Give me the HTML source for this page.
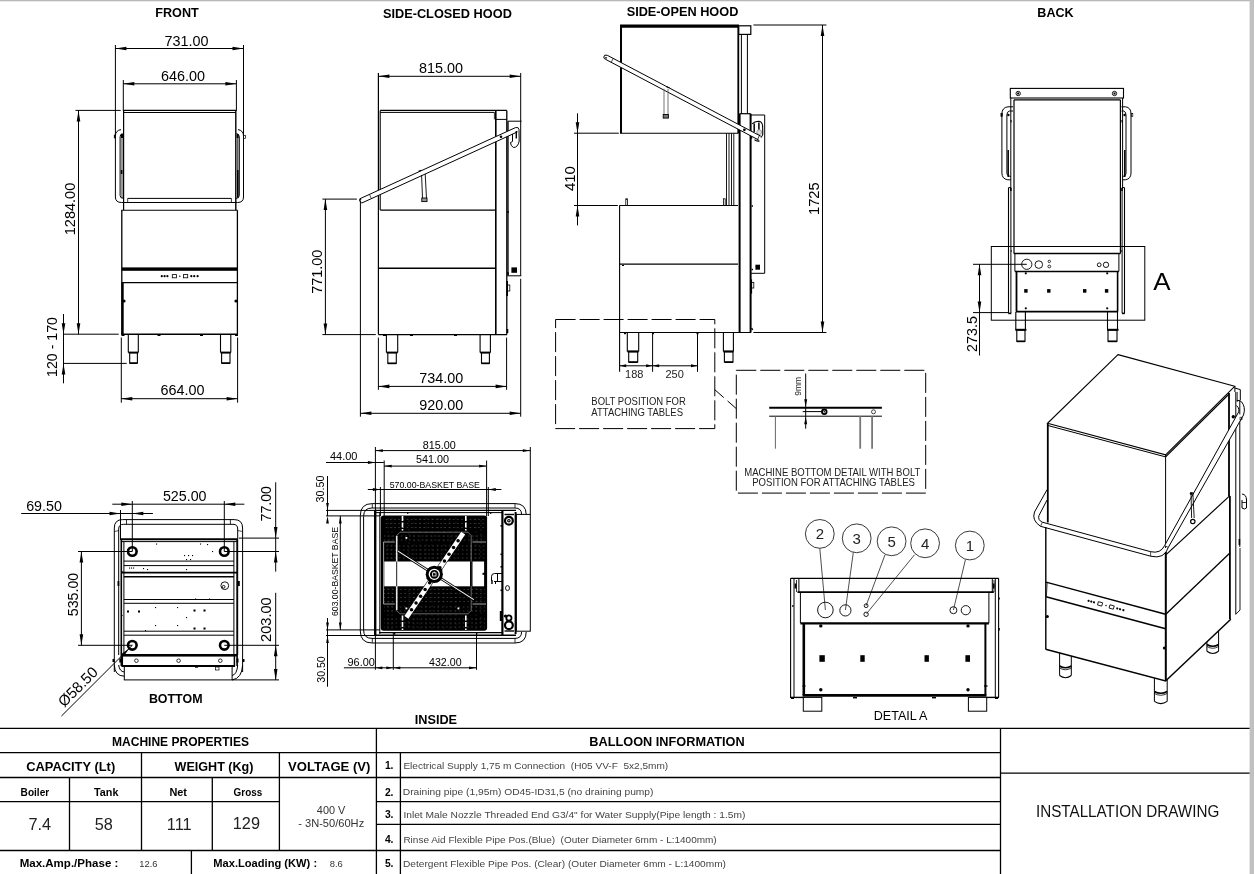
<!DOCTYPE html>
<html><head><meta charset="utf-8"><title>Installation Drawing</title>
<style>
html,body{margin:0;padding:0;background:#fff;}
body{width:1254px;height:874px;overflow:hidden;}
svg{display:block;will-change:transform;}
.cg{font-family:"Liberation Sans","DejaVu Sans",sans-serif;}
.ar{font-family:"Liberation Sans",sans-serif;}
</style></head><body>
<svg width="1254" height="874" viewBox="0 0 1254 874" shape-rendering="auto">
<rect x="0" y="0" width="1254" height="874" fill="#fff"/>
<rect x="0" y="0" width="1254" height="1.3" fill="#b8b8b8"/>
<rect x="1249.6" y="0" width="4.4" height="874" fill="#c0c0c0"/>
<text x="177" y="16.8" font-size="12.6" text-anchor="middle" class="ar" fill="#000" font-weight="bold" textLength="43.5" lengthAdjust="spacingAndGlyphs">FRONT</text>
<line x1="115.4" y1="45" x2="115.4" y2="136" stroke="#000" stroke-width="1"/>
<line x1="243.5" y1="45" x2="243.5" y2="136" stroke="#000" stroke-width="1"/>
<line x1="115.4" y1="48.5" x2="243.5" y2="48.5" stroke="#000" stroke-width="1"/>
<polygon points="115.4,48.5 126.4,46.7 126.4,50.3" fill="#000"/>
<polygon points="243.5,48.5 232.5,50.3 232.5,46.7" fill="#000"/>
<text x="186.5" y="45.5" font-size="15.2" text-anchor="middle" class="cg" fill="#000" textLength="44" lengthAdjust="spacingAndGlyphs">731.00</text>
<line x1="123.3" y1="80" x2="123.3" y2="111" stroke="#000" stroke-width="1"/>
<line x1="236.4" y1="80" x2="236.4" y2="111" stroke="#000" stroke-width="1"/>
<line x1="123.3" y1="83.8" x2="236.4" y2="83.8" stroke="#000" stroke-width="1"/>
<polygon points="123.3,83.8 134.3,82 134.3,85.6" fill="#000"/>
<polygon points="236.4,83.8 225.4,85.6 225.4,82" fill="#000"/>
<text x="183" y="80.8" font-size="15.2" text-anchor="middle" class="cg" fill="#000" textLength="44" lengthAdjust="spacingAndGlyphs">646.00</text>
<line x1="123.4" y1="110.4" x2="236" y2="110.4" stroke="#000" stroke-width="1.1"/>
<line x1="123.4" y1="112.5" x2="236" y2="112.5" stroke="#000" stroke-width="1.1"/>
<line x1="123.6" y1="110.4" x2="123.6" y2="210" stroke="#000" stroke-width="1.2"/>
<line x1="235.8" y1="110.4" x2="235.8" y2="210" stroke="#000" stroke-width="1.4"/>
<path d="M121 129.6 Q115.4 130.5 115.4 136 L115.4 197 Q115.4 202.5 121.5 202.5 L237.5 202.5 Q243.5 202.5 243.5 197 L243.5 136 Q243.5 130.5 238 129.6" fill="none" stroke="#000" stroke-width="1"/>
<path d="M122.5 133.5 Q120.1 134 120.1 137 L120.1 195.5 Q120.1 198.4 123.6 198.4" fill="none" stroke="#000" stroke-width="1"/>
<path d="M236.5 133.5 Q239.3 134 239.3 137 L239.3 195.5 Q239.3 198.4 235.8 198.4" fill="none" stroke="#000" stroke-width="1"/>
<line x1="127.7" y1="198.4" x2="231.4" y2="198.4" stroke="#000" stroke-width="1"/>
<line x1="127.7" y1="198.4" x2="127.7" y2="202.5" stroke="#000" stroke-width="0.8"/>
<line x1="231.4" y1="198.4" x2="231.4" y2="202.5" stroke="#000" stroke-width="0.8"/>
<line x1="122" y1="135" x2="122" y2="198" stroke="#000" stroke-width="0.8"/>
<line x1="237.8" y1="135" x2="237.8" y2="198" stroke="#000" stroke-width="0.9"/>
<line x1="121.6" y1="170" x2="121.6" y2="174" stroke="#000" stroke-width="1.6"/>
<line x1="237.8" y1="170" x2="237.8" y2="197" stroke="#000" stroke-width="1.6"/>
<rect x="121" y="134" width="2" height="4" rx="0" fill="#000" stroke="none" stroke-width="0"/>
<rect x="236.6" y="134" width="2" height="4" rx="0" fill="#000" stroke="none" stroke-width="0"/>
<rect x="114.2" y="135" width="1.5" height="3" rx="0" fill="#000" stroke="#000" stroke-width="0.6"/>
<rect x="243.6" y="135.5" width="1.8" height="2.8" rx="0" fill="none" stroke="#000" stroke-width="0.7"/>
<line x1="121.2" y1="210.2" x2="237.6" y2="210.2" stroke="#000" stroke-width="1.1"/>
<line x1="121.8" y1="210.2" x2="121.8" y2="334.3" stroke="#000" stroke-width="1.3"/>
<line x1="237.4" y1="210.2" x2="237.4" y2="334.3" stroke="#000" stroke-width="1.3"/>
<rect x="121.8" y="267.4" width="115.6" height="3.4" rx="0" fill="#000" stroke="none" stroke-width="0"/>
<line x1="121.8" y1="282.7" x2="237.4" y2="282.7" stroke="#000" stroke-width="1.3"/>
<line x1="122.6" y1="283" x2="122.6" y2="334" stroke="#000" stroke-width="2.2"/>
<line x1="121.2" y1="334.2" x2="237.8" y2="334.2" stroke="#000" stroke-width="1.6"/>
<circle cx="124" cy="301" r="1.6" fill="#000" stroke="#000" stroke-width="0"/>
<circle cx="236" cy="301" r="1.6" fill="#000" stroke="#000" stroke-width="0"/>
<rect x="157.5" y="335" width="3" height="1" rx="0" fill="#000" stroke="none" stroke-width="0"/>
<rect x="200" y="335" width="3" height="1" rx="0" fill="#000" stroke="none" stroke-width="0"/>
<rect x="121.5" y="334" width="3" height="2" rx="0" fill="#000" stroke="none" stroke-width="0"/>
<rect x="235" y="334" width="3" height="2" rx="0" fill="#000" stroke="none" stroke-width="0"/>
<circle cx="161.8" cy="276.2" r="1.1" fill="#000" stroke="#000" stroke-width="0"/>
<circle cx="164.6" cy="276.2" r="1.1" fill="#000" stroke="#000" stroke-width="0"/>
<circle cx="167.4" cy="276.2" r="1.1" fill="#000" stroke="#000" stroke-width="0"/>
<rect x="172.3" y="274.6" width="4.2" height="3.2" rx="0" fill="none" stroke="#000" stroke-width="0.8"/>
<circle cx="179.8" cy="276.2" r="0.7" fill="#000" stroke="#000" stroke-width="0"/>
<rect x="183.5" y="274.6" width="4.2" height="3.2" rx="0" fill="none" stroke="#000" stroke-width="0.8"/>
<circle cx="191.3" cy="276.2" r="1.1" fill="#000" stroke="#000" stroke-width="0"/>
<circle cx="194.2" cy="276.2" r="1.1" fill="#000" stroke="#000" stroke-width="0"/>
<circle cx="197.6" cy="276.2" r="1.1" fill="#000" stroke="#000" stroke-width="0"/>
<line x1="128.3" y1="334.3" x2="128.3" y2="352.5" stroke="#000" stroke-width="1.1"/>
<line x1="138.3" y1="334.3" x2="138.3" y2="352.5" stroke="#000" stroke-width="1.1"/>
<line x1="128.3" y1="352.5" x2="138.3" y2="352.5" stroke="#000" stroke-width="1.8"/>
<rect x="129.7" y="352.8" width="7.7" height="10.3" rx="0" fill="none" stroke="#000" stroke-width="1.1"/>
<line x1="129.7" y1="363.2" x2="137.4" y2="363.2" stroke="#000" stroke-width="1.6"/>
<line x1="220.5" y1="334.3" x2="220.5" y2="352.5" stroke="#000" stroke-width="1.1"/>
<line x1="230.8" y1="334.3" x2="230.8" y2="352.5" stroke="#000" stroke-width="1.1"/>
<line x1="220.5" y1="352.5" x2="230.8" y2="352.5" stroke="#000" stroke-width="1.8"/>
<rect x="221.6" y="352.8" width="8.4" height="10.3" rx="0" fill="none" stroke="#000" stroke-width="1.1"/>
<line x1="221.6" y1="363.2" x2="230" y2="363.2" stroke="#000" stroke-width="1.6"/>
<line x1="75.5" y1="110.4" x2="120.7" y2="110.4" stroke="#000" stroke-width="1"/>
<line x1="63" y1="334.2" x2="118.7" y2="334.2" stroke="#000" stroke-width="1"/>
<line x1="78.5" y1="110.4" x2="78.5" y2="334.2" stroke="#000" stroke-width="1"/>
<polygon points="78.5,110.4 80.3,121.4 76.7,121.4" fill="#000"/>
<polygon points="78.5,334.2 76.7,323.2 80.3,323.2" fill="#000"/>
<text x="74.5" y="209" font-size="15.2" text-anchor="middle" class="cg" fill="#000" textLength="52.5" lengthAdjust="spacingAndGlyphs" transform="rotate(-90 74.5 209)">1284.00</text>
<line x1="63.5" y1="363.4" x2="126.7" y2="363.4" stroke="#000" stroke-width="1"/>
<line x1="63.5" y1="314" x2="63.5" y2="383.3" stroke="#000" stroke-width="1"/>
<polygon points="63.5,334.2 61.7,323.2 65.3,323.2" fill="#000"/>
<polygon points="63.5,363.4 65.3,374.4 61.7,374.4" fill="#000"/>
<text x="57" y="347" font-size="15.2" text-anchor="middle" class="cg" fill="#000" textLength="60" lengthAdjust="spacingAndGlyphs" transform="rotate(-90 57 347)">120 - 170</text>
<line x1="121.3" y1="337.5" x2="121.3" y2="402.7" stroke="#000" stroke-width="1"/>
<line x1="237.6" y1="337.5" x2="237.6" y2="402.7" stroke="#000" stroke-width="1"/>
<line x1="121.3" y1="398.7" x2="237.6" y2="398.7" stroke="#000" stroke-width="1"/>
<polygon points="121.3,398.7 132.3,396.9 132.3,400.5" fill="#000"/>
<polygon points="237.6,398.7 226.6,400.5 226.6,396.9" fill="#000"/>
<text x="182.5" y="395.3" font-size="15.2" text-anchor="middle" class="cg" fill="#000" textLength="44" lengthAdjust="spacingAndGlyphs">664.00</text>
<text x="447.4" y="18.1" font-size="12.6" text-anchor="middle" class="ar" fill="#000" font-weight="bold" textLength="129" lengthAdjust="spacingAndGlyphs">SIDE-CLOSED HOOD</text>
<line x1="378.4" y1="73" x2="378.4" y2="334.6" stroke="#000" stroke-width="1.2"/>
<line x1="520.7" y1="73" x2="520.7" y2="275.8" stroke="#000" stroke-width="1"/>
<line x1="378.4" y1="76.3" x2="520.7" y2="76.3" stroke="#000" stroke-width="1"/>
<polygon points="378.4,76.3 389.4,74.5 389.4,78.1" fill="#000"/>
<polygon points="520.7,76.3 509.7,78.1 509.7,74.5" fill="#000"/>
<text x="441" y="73" font-size="15.2" text-anchor="middle" class="cg" fill="#000" textLength="44" lengthAdjust="spacingAndGlyphs">815.00</text>
<line x1="380.2" y1="110.4" x2="506.8" y2="110.4" stroke="#000" stroke-width="1.1"/>
<line x1="380.2" y1="112.4" x2="494.4" y2="112.4" stroke="#000" stroke-width="1"/>
<line x1="380.2" y1="110.4" x2="380.2" y2="210.1" stroke="#000" stroke-width="1.1"/>
<line x1="380.2" y1="210.1" x2="495.4" y2="210.1" stroke="#000" stroke-width="1.2"/>
<line x1="494.4" y1="112.4" x2="494.4" y2="119.4" stroke="#000" stroke-width="0.8"/>
<line x1="495.8" y1="110.4" x2="495.8" y2="334.6" stroke="#000" stroke-width="1.6"/>
<line x1="495.8" y1="119.4" x2="506.8" y2="119.4" stroke="#000" stroke-width="1"/>
<line x1="506.8" y1="110.4" x2="506.8" y2="334.6" stroke="#000" stroke-width="1.3"/>
<line x1="508" y1="121.2" x2="508" y2="275.8" stroke="#000" stroke-width="1.3"/>
<line x1="507.8" y1="121.2" x2="521.5" y2="121.2" stroke="#000" stroke-width="1"/>
<path d="M359.8 198.8 L515.5 127.6 L517.6 131.8 L361.8 203 Z" fill="#fff" stroke="none" stroke-width="0"/>
<path d="M359.8 198.8 L515.5 127.6" fill="none" stroke="#000" stroke-width="1"/>
<path d="M361.8 203 L517.6 131.8" fill="none" stroke="#000" stroke-width="1"/>
<path d="M359.8 198.8 Q358.6 201.5 361.8 203" fill="none" stroke="#000" stroke-width="1"/>
<line x1="369.5" y1="194.5" x2="371.3" y2="198.5" stroke="#000" stroke-width="0.7"/>
<path d="M515.5 127.6 Q518.5 126.6 519 129.5 L519.2 141 Q518 147.5 513.5 147.5 Q510.5 146 510.5 142.5 L512.5 141.5 L512.5 134" fill="none" stroke="#000" stroke-width="1"/>
<line x1="516.3" y1="131" x2="516.3" y2="138.5" stroke="#000" stroke-width="1.4"/>
<circle cx="501" cy="136.8" r="1.3" fill="#000" stroke="#000" stroke-width="0"/>
<circle cx="360.6" cy="199.6" r="0.7" fill="#000" stroke="#000" stroke-width="0"/>
<path d="M421.6 175 L422.6 200.5" fill="none" stroke="#000" stroke-width="0.9"/>
<path d="M425.2 174 L426.6 200.5" fill="none" stroke="#000" stroke-width="0.9"/>
<rect x="421.8" y="198" width="5.2" height="3.6" rx="0" fill="#999" stroke="#000" stroke-width="0.9"/>
<line x1="418.5" y1="171.3" x2="421.5" y2="170.3" stroke="#000" stroke-width="1.2"/>
<line x1="378.4" y1="268.2" x2="495.4" y2="268.2" stroke="#000" stroke-width="1.6"/>
<line x1="378.4" y1="334.6" x2="507" y2="334.6" stroke="#000" stroke-width="1.3"/>
<line x1="507.4" y1="275.8" x2="521.3" y2="275.8" stroke="#000" stroke-width="1"/>
<rect x="511.4" y="267.4" width="5.6" height="5.4" rx="0" fill="#000" stroke="none" stroke-width="0"/>
<rect x="507.4" y="285" width="2.4" height="6" rx="0" fill="none" stroke="#000" stroke-width="0.8"/>
<line x1="507.2" y1="281" x2="507.2" y2="296" stroke="#000" stroke-width="1.6"/>
<line x1="507.5" y1="329" x2="507.5" y2="333" stroke="#000" stroke-width="1.6"/>
<line x1="508" y1="211" x2="508" y2="213" stroke="#000" stroke-width="1.5"/>
<line x1="508" y1="272" x2="508" y2="275" stroke="#000" stroke-width="1.5"/>
<rect x="383" y="335" width="3" height="1" rx="0" fill="#000" stroke="none" stroke-width="0"/>
<rect x="410" y="335" width="3" height="1" rx="0" fill="#000" stroke="none" stroke-width="0"/>
<rect x="454" y="335" width="3" height="1" rx="0" fill="#000" stroke="none" stroke-width="0"/>
<line x1="386.4" y1="334.6" x2="386.4" y2="352.5" stroke="#000" stroke-width="1.1"/>
<line x1="397.7" y1="334.6" x2="397.7" y2="352.5" stroke="#000" stroke-width="1.1"/>
<line x1="386.4" y1="352.5" x2="397.7" y2="352.5" stroke="#000" stroke-width="1.8"/>
<rect x="387.8" y="352.8" width="8.5" height="10.5" rx="0" fill="none" stroke="#000" stroke-width="1.1"/>
<line x1="387.8" y1="363.4" x2="396.3" y2="363.4" stroke="#000" stroke-width="1.6"/>
<line x1="480.1" y1="334.6" x2="480.1" y2="352.5" stroke="#000" stroke-width="1.1"/>
<line x1="490.4" y1="334.6" x2="490.4" y2="352.5" stroke="#000" stroke-width="1.1"/>
<line x1="480.1" y1="352.5" x2="490.4" y2="352.5" stroke="#000" stroke-width="1.8"/>
<rect x="481.5" y="352.8" width="7.9" height="10.5" rx="0" fill="none" stroke="#000" stroke-width="1.1"/>
<line x1="481.5" y1="363.4" x2="489.4" y2="363.4" stroke="#000" stroke-width="1.6"/>
<line x1="322.4" y1="199.1" x2="356.9" y2="199.1" stroke="#000" stroke-width="1"/>
<line x1="322.4" y1="334.6" x2="375.8" y2="334.6" stroke="#000" stroke-width="1"/>
<line x1="325.4" y1="199.1" x2="325.4" y2="334.6" stroke="#000" stroke-width="1"/>
<polygon points="325.4,199.1 327.2,210.1 323.6,210.1" fill="#000"/>
<polygon points="325.4,334.6 323.6,323.6 327.2,323.6" fill="#000"/>
<text x="321.6" y="271.8" font-size="15.2" text-anchor="middle" class="cg" fill="#000" textLength="44" lengthAdjust="spacingAndGlyphs" transform="rotate(-90 321.6 271.8)">771.00</text>
<line x1="378.4" y1="337.6" x2="378.4" y2="389.8" stroke="#000" stroke-width="1"/>
<line x1="506.6" y1="337.6" x2="506.6" y2="389.8" stroke="#000" stroke-width="1"/>
<line x1="378.4" y1="386.4" x2="506.6" y2="386.4" stroke="#000" stroke-width="1"/>
<polygon points="378.4,386.4 389.4,384.6 389.4,388.2" fill="#000"/>
<polygon points="506.6,386.4 495.6,388.2 495.6,384.6" fill="#000"/>
<text x="441.2" y="382.8" font-size="15.2" text-anchor="middle" class="cg" fill="#000" textLength="44" lengthAdjust="spacingAndGlyphs">734.00</text>
<line x1="360.4" y1="200.5" x2="360.4" y2="416.7" stroke="#000" stroke-width="1"/>
<line x1="520.7" y1="278.7" x2="520.7" y2="416.7" stroke="#000" stroke-width="1"/>
<line x1="360.4" y1="413.3" x2="520.7" y2="413.3" stroke="#000" stroke-width="1"/>
<polygon points="360.4,413.3 371.4,411.5 371.4,415.1" fill="#000"/>
<polygon points="520.7,413.3 509.7,415.1 509.7,411.5" fill="#000"/>
<text x="441.2" y="410.1" font-size="15.2" text-anchor="middle" class="cg" fill="#000" textLength="44" lengthAdjust="spacingAndGlyphs">920.00</text>
<text x="682.5" y="16" font-size="12.6" text-anchor="middle" class="ar" fill="#000" font-weight="bold" textLength="111.7" lengthAdjust="spacingAndGlyphs">SIDE-OPEN HOOD</text>
<line x1="620" y1="26.2" x2="739" y2="26.2" stroke="#000" stroke-width="3.2"/>
<line x1="621" y1="25" x2="621" y2="133.2" stroke="#000" stroke-width="2"/>
<line x1="738.3" y1="26" x2="738.3" y2="133.2" stroke="#000" stroke-width="1.8"/>
<line x1="620" y1="133.2" x2="738.4" y2="133.2" stroke="#000" stroke-width="1.1"/>
<rect x="738.6" y="25.8" width="12.2" height="8.6" rx="0" fill="none" stroke="#000" stroke-width="1.2"/>
<line x1="741.4" y1="34.3" x2="741.4" y2="113.7" stroke="#000" stroke-width="1"/>
<line x1="747.4" y1="34.3" x2="747.4" y2="113.7" stroke="#000" stroke-width="1"/>
<line x1="739.6" y1="113.7" x2="739.6" y2="332.5" stroke="#000" stroke-width="2"/>
<line x1="750.6" y1="113.7" x2="750.6" y2="332.5" stroke="#000" stroke-width="2"/>
<line x1="739.6" y1="113.7" x2="750.6" y2="113.7" stroke="#000" stroke-width="1.2"/>
<path d="M750.8 115 L764.7 115 L764.7 273.3 L750.8 273.3" fill="none" stroke="#000" stroke-width="1"/>
<rect x="755.4" y="264.7" width="4.6" height="5" rx="0" fill="#000" stroke="none" stroke-width="0"/>
<rect x="751.2" y="282.5" width="2.6" height="5.5" rx="0" fill="none" stroke="#000" stroke-width="0.8"/>
<line x1="751.4" y1="279.3" x2="751.4" y2="293.6" stroke="#000" stroke-width="1.4"/>
<line x1="751.6" y1="206" x2="753" y2="206" stroke="#000" stroke-width="1.4"/>
<line x1="751.6" y1="269.5" x2="753" y2="269.5" stroke="#000" stroke-width="1.4"/>
<line x1="751.6" y1="328" x2="752.6" y2="330" stroke="#000" stroke-width="1.4"/>
<path d="M752.2 123.8 Q754.5 121.5 758.5 121.2 Q761.9 121.3 762.6 125.5 L762.8 134 Q762.3 136.5 760.8 137.6" fill="none" stroke="#000" stroke-width="1.1"/>
<line x1="754.2" y1="123.5" x2="754.2" y2="132" stroke="#000" stroke-width="1.5"/>
<line x1="758.9" y1="122.6" x2="758.9" y2="129.7" stroke="#000" stroke-width="1.5"/>
<circle cx="759.2" cy="132.2" r="2.4" fill="#ddd" stroke="#888" stroke-width="0.8"/>
<path d="M607.3 55.3 L760.8 136.2 L758.8 140.1 L605.3 59.2 Z" fill="#fff" stroke="none" stroke-width="0"/>
<path d="M607.3 55.3 L760.8 136.2" fill="none" stroke="#000" stroke-width="1"/>
<path d="M605.3 59.2 L758.8 140.1" fill="none" stroke="#000" stroke-width="1"/>
<path d="M607.3 55.3 Q604 54.2 603.8 57 Q603.8 58.6 605.3 59.2" fill="none" stroke="#000" stroke-width="1"/>
<line x1="759.5" y1="135.5" x2="757.5" y2="139.4" stroke="#000" stroke-width="0.8"/>
<line x1="613.2" y1="58.4" x2="611.2" y2="62.3" stroke="#000" stroke-width="0.7"/>
<circle cx="606" cy="57.8" r="0.9" fill="#000" stroke="#000" stroke-width="0"/>
<circle cx="744.4" cy="129.8" r="1.4" fill="#000" stroke="#000" stroke-width="0"/>
<rect x="750.2" y="136.5" width="2" height="2.2" rx="0" fill="#000" stroke="none" stroke-width="0"/>
<path d="M754.5 139.6 Q756.5 141.6 759.4 141" fill="none" stroke="#000" stroke-width="1.3"/>
<line x1="664" y1="88.7" x2="664" y2="114" stroke="#666" stroke-width="0.9"/>
<line x1="668" y1="88.7" x2="668" y2="114" stroke="#666" stroke-width="0.9"/>
<rect x="663.2" y="114.5" width="5.2" height="3.6" rx="0" fill="#777" stroke="#000" stroke-width="0.9"/>
<line x1="666.5" y1="86.8" x2="669.5" y2="87.8" stroke="#000" stroke-width="1.2"/>
<line x1="726.5" y1="133.2" x2="726.5" y2="205.5" stroke="#000" stroke-width="0.9"/>
<line x1="729" y1="133.2" x2="729" y2="205.5" stroke="#000" stroke-width="0.9"/>
<line x1="731.5" y1="133.2" x2="731.5" y2="205.5" stroke="#000" stroke-width="0.9"/>
<line x1="733.8" y1="133.2" x2="733.8" y2="205.5" stroke="#000" stroke-width="0.9"/>
<line x1="619.4" y1="205.5" x2="738" y2="205.5" stroke="#000" stroke-width="1.2"/>
<line x1="619.6" y1="205.5" x2="619.6" y2="371.8" stroke="#000" stroke-width="1.1"/>
<line x1="619.4" y1="264.1" x2="738" y2="264.1" stroke="#000" stroke-width="1.3"/>
<line x1="619.4" y1="332.5" x2="751" y2="332.5" stroke="#000" stroke-width="1.2"/>
<rect x="625.8" y="198.8" width="1.6" height="6.7" rx="0" fill="none" stroke="#000" stroke-width="0.8"/>
<rect x="723.6" y="198.8" width="1.6" height="6.7" rx="0" fill="none" stroke="#000" stroke-width="0.8"/>
<rect x="622" y="265" width="2" height="1" rx="0" fill="#000" stroke="none" stroke-width="0"/>
<rect x="624" y="333" width="2" height="1.2" rx="0" fill="#000" stroke="none" stroke-width="0"/>
<rect x="652" y="333" width="2" height="1.2" rx="0" fill="#000" stroke="none" stroke-width="0"/>
<rect x="696.5" y="333" width="2" height="1.2" rx="0" fill="#000" stroke="none" stroke-width="0"/>
<line x1="627.3" y1="332.5" x2="627.3" y2="351.4" stroke="#000" stroke-width="1.1"/>
<line x1="638.7" y1="332.5" x2="638.7" y2="351.4" stroke="#000" stroke-width="1.1"/>
<line x1="627.3" y1="351.4" x2="638.7" y2="351.4" stroke="#000" stroke-width="2"/>
<rect x="628.7" y="351.8" width="9" height="10.2" rx="0" fill="none" stroke="#000" stroke-width="1.1"/>
<line x1="628.7" y1="362.2" x2="637.7" y2="362.2" stroke="#000" stroke-width="1.6"/>
<line x1="723.4" y1="332.5" x2="723.4" y2="351.4" stroke="#000" stroke-width="1.1"/>
<line x1="733.4" y1="332.5" x2="733.4" y2="351.4" stroke="#000" stroke-width="1.1"/>
<line x1="723.4" y1="351.4" x2="733.4" y2="351.4" stroke="#000" stroke-width="2"/>
<rect x="724.4" y="351.8" width="8.6" height="10.2" rx="0" fill="none" stroke="#000" stroke-width="1.1"/>
<line x1="724.4" y1="362.2" x2="733" y2="362.2" stroke="#000" stroke-width="1.6"/>
<line x1="652.6" y1="332.5" x2="652.6" y2="371.8" stroke="#000" stroke-width="1"/>
<line x1="697.5" y1="332.5" x2="697.5" y2="371.8" stroke="#000" stroke-width="1"/>
<line x1="619.7" y1="365.8" x2="697.5" y2="365.8" stroke="#000" stroke-width="1"/>
<polygon points="619.7,365.8 626.2,364.3 626.2,367.3" fill="#000"/>
<polygon points="652.6,365.8 646.1,367.3 646.1,364.3" fill="#000"/>
<polygon points="652.6,365.8 659.1,364.3 659.1,367.3" fill="#000"/>
<polygon points="697.5,365.8 691,367.3 691,364.3" fill="#000"/>
<text x="634.3" y="377.8" font-size="11" text-anchor="middle" class="ar" fill="#222">188</text>
<text x="674.6" y="377.8" font-size="11" text-anchor="middle" class="ar" fill="#222">250</text>
<rect x="555.6" y="319.5" width="159.2" height="109.1" rx="0" fill="none" stroke="#000" stroke-width="1" stroke-dasharray="20 4"/>
<text x="638.6" y="404.7" font-size="10.5" text-anchor="middle" class="ar" fill="#222" textLength="94.5" lengthAdjust="spacingAndGlyphs">BOLT POSITION FOR</text>
<text x="637.2" y="415.6" font-size="10.5" text-anchor="middle" class="ar" fill="#222" textLength="91.7" lengthAdjust="spacingAndGlyphs">ATTACHING TABLES</text>
<line x1="714.8" y1="389.7" x2="736.4" y2="408.7" stroke="#000" stroke-width="1" stroke-dasharray="12 5"/>
<rect x="736.3" y="370.3" width="189.4" height="122.8" rx="0" fill="none" stroke="#000" stroke-width="1" stroke-dasharray="20 4"/>
<line x1="769.2" y1="407.8" x2="881.9" y2="407.8" stroke="#000" stroke-width="2"/>
<line x1="769.2" y1="416.2" x2="881.9" y2="416.2" stroke="#000" stroke-width="1"/>
<line x1="775.4" y1="416.2" x2="775.4" y2="448.7" stroke="#666" stroke-width="1"/>
<line x1="860.2" y1="416.2" x2="860.2" y2="448.7" stroke="#777" stroke-width="1.8"/>
<line x1="872.1" y1="416.2" x2="872.1" y2="448.7" stroke="#777" stroke-width="1.8"/>
<line x1="805.7" y1="373.5" x2="805.7" y2="428.7" stroke="#000" stroke-width="1"/>
<polygon points="805.7,406.8 804.2,399.3 807.2,399.3" fill="#000"/>
<polygon points="805.7,416.7 807.2,424.2 804.2,424.2" fill="#000"/>
<line x1="802.7" y1="411.6" x2="822.7" y2="411.6" stroke="#000" stroke-width="1"/>
<circle cx="824.3" cy="411.8" r="2.3" fill="none" stroke="#000" stroke-width="1.8"/>
<circle cx="824.3" cy="411.8" r="0.8" fill="#000" stroke="#000" stroke-width="0"/>
<circle cx="873.5" cy="411.8" r="2" fill="none" stroke="#333" stroke-width="0.9"/>
<text x="801" y="386.3" font-size="8.5" text-anchor="middle" class="ar" fill="#222" transform="rotate(-90 801 386.3)">9mm</text>
<text x="832.3" y="475.6" font-size="10.3" text-anchor="middle" class="ar" fill="#222" textLength="176" lengthAdjust="spacingAndGlyphs">MACHINE BOTTOM DETAIL WITH BOLT</text>
<text x="833.6" y="485.6" font-size="10.3" text-anchor="middle" class="ar" fill="#222" textLength="162.7" lengthAdjust="spacingAndGlyphs">POSITION FOR ATTACHING TABLES</text>
<line x1="574" y1="133.2" x2="618.8" y2="133.2" stroke="#000" stroke-width="1"/>
<line x1="574" y1="205.5" x2="617.8" y2="205.5" stroke="#000" stroke-width="1"/>
<line x1="577.5" y1="113.3" x2="577.5" y2="225.4" stroke="#000" stroke-width="1"/>
<polygon points="577.5,133.2 575.7,122.2 579.3,122.2" fill="#000"/>
<polygon points="577.5,205.5 579.3,216.5 575.7,216.5" fill="#000"/>
<text x="575" y="178.6" font-size="15.2" text-anchor="middle" class="cg" fill="#000" textLength="25" lengthAdjust="spacingAndGlyphs" transform="rotate(-90 575 178.6)">410</text>
<line x1="753.4" y1="25" x2="826.4" y2="25" stroke="#000" stroke-width="1"/>
<line x1="753.4" y1="332.5" x2="826.4" y2="332.5" stroke="#000" stroke-width="1"/>
<line x1="822.5" y1="25" x2="822.5" y2="332.5" stroke="#000" stroke-width="1"/>
<polygon points="822.5,25 824.3,36 820.7,36" fill="#000"/>
<polygon points="822.5,332.5 820.7,321.5 824.3,321.5" fill="#000"/>
<text x="819" y="198.7" font-size="15.2" text-anchor="middle" class="cg" fill="#000" textLength="32.5" lengthAdjust="spacingAndGlyphs" transform="rotate(-90 819 198.7)">1725</text>
<text x="1055.5" y="17.1" font-size="12.6" text-anchor="middle" class="ar" fill="#000" font-weight="bold" textLength="36.3" lengthAdjust="spacingAndGlyphs">BACK</text>
<rect x="1010.3" y="88.4" width="113.2" height="9.6" rx="0" fill="none" stroke="#000" stroke-width="1.1"/>
<line x1="1013.8" y1="99.9" x2="1120.5" y2="99.9" stroke="#000" stroke-width="1.1"/>
<circle cx="1018.2" cy="93.5" r="2.2" fill="none" stroke="#000" stroke-width="0.9"/>
<rect x="1017.2" y="92.5" width="2" height="2" rx="0" fill="#000" stroke="none" stroke-width="0"/>
<circle cx="1114.5" cy="93.5" r="2.2" fill="none" stroke="#000" stroke-width="0.9"/>
<rect x="1113.5" y="92.5" width="2" height="2" rx="0" fill="#000" stroke="none" stroke-width="0"/>
<line x1="1014" y1="99.9" x2="1014" y2="253.4" stroke="#000" stroke-width="1.2"/>
<line x1="1120.4" y1="99.9" x2="1120.4" y2="253.4" stroke="#000" stroke-width="1.2"/>
<line x1="1010.8" y1="98" x2="1010.8" y2="188" stroke="#000" stroke-width="1"/>
<line x1="1122.6" y1="98" x2="1122.6" y2="188" stroke="#000" stroke-width="1"/>
<path d="M1013 106.8 L1008 106.8 Q1001.9 107.5 1001.9 114 L1001.9 173 Q1002 179 1007.8 179.8 L1010.8 179.8" fill="none" stroke="#000" stroke-width="1"/>
<path d="M1013 111 L1009.5 111 Q1006.9 111.5 1006.9 115 L1006.9 173.5 Q1007 176.3 1010.8 176.5" fill="none" stroke="#000" stroke-width="1"/>
<path d="M1121.5 106.8 L1125.5 106.8 Q1131 107.5 1131 114 L1131 173 Q1131 179 1125.3 179.8 L1122.6 179.8" fill="none" stroke="#000" stroke-width="1"/>
<path d="M1121.5 111 L1123.5 111 Q1126 111.5 1126 115 L1126 173.5 Q1126 176.3 1122.6 176.5" fill="none" stroke="#000" stroke-width="1"/>
<line x1="1008.2" y1="150" x2="1008.2" y2="177" stroke="#000" stroke-width="1.5"/>
<line x1="1124.8" y1="150" x2="1124.8" y2="177" stroke="#000" stroke-width="1.5"/>
<rect x="1000.9" y="113.5" width="1.4" height="3" rx="0" fill="#000" stroke="#000" stroke-width="0.6"/>
<rect x="1131.2" y="113.6" width="1.6" height="2.8" rx="0" fill="none" stroke="#000" stroke-width="0.7"/>
<circle cx="1008.4" cy="115" r="1.2" fill="#000" stroke="#000" stroke-width="0"/>
<circle cx="1124.6" cy="115" r="1.2" fill="#000" stroke="#000" stroke-width="0"/>
<rect x="1010.6" y="120" width="1" height="2.4" rx="0" fill="#000" stroke="none" stroke-width="0"/>
<rect x="1121.4" y="120" width="1" height="2.4" rx="0" fill="#000" stroke="none" stroke-width="0"/>
<line x1="1008.5" y1="187.6" x2="1008.5" y2="313.2" stroke="#000" stroke-width="1.1"/>
<line x1="1124.5" y1="187.6" x2="1124.5" y2="313.2" stroke="#000" stroke-width="1.1"/>
<line x1="1010.9" y1="187.6" x2="1010.9" y2="313.2" stroke="#000" stroke-width="1"/>
<line x1="1122.1" y1="187.6" x2="1122.1" y2="313.2" stroke="#000" stroke-width="1"/>
<line x1="1008.5" y1="187.6" x2="1011" y2="187.6" stroke="#000" stroke-width="1"/>
<line x1="1122" y1="187.6" x2="1124.5" y2="187.6" stroke="#000" stroke-width="1"/>
<rect x="1010" y="188" width="1.6" height="3" rx="0" fill="#000" stroke="none" stroke-width="0"/>
<rect x="1121.2" y="188" width="1.6" height="3" rx="0" fill="#000" stroke="none" stroke-width="0"/>
<line x1="1008.3" y1="313.4" x2="1011.3" y2="313.4" stroke="#000" stroke-width="1.6"/>
<line x1="1122" y1="313.4" x2="1124.8" y2="313.4" stroke="#000" stroke-width="1.6"/>
<rect x="991.3" y="246.5" width="153.5" height="73.7" rx="0" fill="none" stroke="#000" stroke-width="1"/>
<line x1="1013.8" y1="253.5" x2="1120.5" y2="253.5" stroke="#000" stroke-width="1.5"/>
<line x1="1014.9" y1="253.5" x2="1014.9" y2="271.4" stroke="#000" stroke-width="1"/>
<line x1="1118.9" y1="253.5" x2="1118.9" y2="271.4" stroke="#000" stroke-width="1"/>
<line x1="1014.9" y1="271.5" x2="1118.9" y2="271.5" stroke="#000" stroke-width="1.6"/>
<circle cx="1026.8" cy="264.3" r="5.1" fill="none" stroke="#000" stroke-width="0.9"/>
<circle cx="1038.8" cy="264.6" r="3.8" fill="none" stroke="#000" stroke-width="0.9"/>
<circle cx="1049.3" cy="261.4" r="1.2" fill="none" stroke="#000" stroke-width="0.8"/>
<circle cx="1049.3" cy="266.5" r="1.4" fill="none" stroke="#000" stroke-width="0.8"/>
<circle cx="1099.2" cy="264.8" r="1.9" fill="none" stroke="#000" stroke-width="0.9"/>
<circle cx="1106" cy="264.8" r="2.7" fill="none" stroke="#000" stroke-width="0.9"/>
<circle cx="1011.3" cy="251" r="0.7" fill="#000" stroke="#000" stroke-width="0"/>
<circle cx="1121.7" cy="251" r="0.7" fill="#000" stroke="#000" stroke-width="0"/>
<line x1="1016.5" y1="271.5" x2="1016.5" y2="311.6" stroke="#000" stroke-width="1.8"/>
<line x1="1117.6" y1="271.5" x2="1117.6" y2="311.6" stroke="#000" stroke-width="1.6"/>
<line x1="1016" y1="311.7" x2="1118" y2="311.7" stroke="#000" stroke-width="1.8"/>
<rect x="1024.2" y="289.1" width="3.4" height="3.6" rx="0" fill="#000" stroke="none" stroke-width="0"/>
<rect x="1047.1" y="289.1" width="3.4" height="3.6" rx="0" fill="#000" stroke="none" stroke-width="0"/>
<rect x="1083" y="289.1" width="3.4" height="3.6" rx="0" fill="#000" stroke="none" stroke-width="0"/>
<rect x="1104.9" y="289.1" width="3.4" height="3.6" rx="0" fill="#000" stroke="none" stroke-width="0"/>
<circle cx="1025.8" cy="273.3" r="1.1" fill="#000" stroke="#000" stroke-width="0"/>
<circle cx="1107.2" cy="273.3" r="1.1" fill="#000" stroke="#000" stroke-width="0"/>
<circle cx="1025.8" cy="308.3" r="1.1" fill="#000" stroke="#000" stroke-width="0"/>
<circle cx="1107.2" cy="308.3" r="1.1" fill="#000" stroke="#000" stroke-width="0"/>
<line x1="1015.8" y1="312" x2="1015.8" y2="329.6" stroke="#000" stroke-width="1.1"/>
<line x1="1025.4" y1="312" x2="1025.4" y2="329.6" stroke="#000" stroke-width="1.1"/>
<line x1="1015.3" y1="329.8" x2="1026.4" y2="329.8" stroke="#000" stroke-width="2"/>
<rect x="1016.8" y="330" width="8.2" height="11.3" rx="0" fill="none" stroke="#000" stroke-width="1.1"/>
<line x1="1016.8" y1="341.4" x2="1025" y2="341.4" stroke="#000" stroke-width="1.6"/>
<line x1="1107.5" y1="312" x2="1107.5" y2="329.6" stroke="#000" stroke-width="1.1"/>
<line x1="1117.5" y1="312" x2="1117.5" y2="329.6" stroke="#000" stroke-width="1.1"/>
<line x1="1107" y1="329.8" x2="1118.5" y2="329.8" stroke="#000" stroke-width="2"/>
<rect x="1108" y="330" width="9" height="11.3" rx="0" fill="none" stroke="#000" stroke-width="1.1"/>
<line x1="1108" y1="341.4" x2="1117" y2="341.4" stroke="#000" stroke-width="1.6"/>
<line x1="973" y1="264.3" x2="1026.8" y2="264.3" stroke="#000" stroke-width="1"/>
<line x1="973" y1="312.6" x2="1008.8" y2="312.6" stroke="#000" stroke-width="1"/>
<line x1="979.5" y1="264.3" x2="979.5" y2="355.5" stroke="#000" stroke-width="1"/>
<polygon points="979.5,264.3 981.3,275.3 977.7,275.3" fill="#000"/>
<polygon points="979.5,312.6 977.7,301.6 981.3,301.6" fill="#000"/>
<text x="977" y="334" font-size="15.2" text-anchor="middle" class="cg" fill="#000" textLength="36" lengthAdjust="spacingAndGlyphs" transform="rotate(-90 977 334)">273.5</text>
<text x="1162" y="290.1" font-size="24" text-anchor="middle" class="cg" fill="#000" textLength="17.3" lengthAdjust="spacingAndGlyphs">A</text>
<text x="175.7" y="702.7" font-size="12.6" text-anchor="middle" class="ar" fill="#000" font-weight="bold" textLength="53.6" lengthAdjust="spacingAndGlyphs">BOTTOM</text>
<path d="M114.3 672 L114.3 528 Q114.3 519.6 122.7 519.6 L234.2 519.6 Q242.6 519.6 242.6 528 L242.6 672" fill="none" stroke="#000" stroke-width="1"/>
<path d="M118.7 655 L118.7 529 Q118.7 524.3 123.4 524.3 L233 524.3 Q237.7 524.3 237.7 529 L237.7 655" fill="none" stroke="#000" stroke-width="1"/>
<line x1="126.5" y1="519.6" x2="126.5" y2="524.3" stroke="#000" stroke-width="0.8"/>
<line x1="230.4" y1="519.6" x2="230.4" y2="524.3" stroke="#000" stroke-width="0.8"/>
<line x1="118.9" y1="530.5" x2="114.4" y2="531.5" stroke="#000" stroke-width="0.7"/>
<line x1="237.6" y1="530.5" x2="242.5" y2="531.5" stroke="#000" stroke-width="0.7"/>
<path d="M114.3 665 Q114.8 676 124.3 676.2" fill="none" stroke="#000" stroke-width="1"/>
<path d="M118.7 665 Q119.4 671.5 124.3 672" fill="none" stroke="#000" stroke-width="1"/>
<path d="M242.6 665 Q242 678.5 232.1 679.9" fill="none" stroke="#000" stroke-width="1"/>
<path d="M237.7 665 Q237 674.5 232.1 675.5" fill="none" stroke="#000" stroke-width="1"/>
<line x1="121" y1="539.2" x2="237.3" y2="539.2" stroke="#000" stroke-width="2"/>
<line x1="121.3" y1="539.2" x2="121.3" y2="665.9" stroke="#000" stroke-width="1.6"/>
<line x1="237.1" y1="539.2" x2="237.1" y2="665.9" stroke="#000" stroke-width="1.6"/>
<line x1="123.9" y1="541.4" x2="123.9" y2="655" stroke="#000" stroke-width="1"/>
<line x1="233.9" y1="541.4" x2="233.9" y2="655" stroke="#000" stroke-width="1"/>
<line x1="121" y1="541.6" x2="237" y2="541.6" stroke="#000" stroke-width="1"/>
<line x1="123.9" y1="561.1" x2="233.9" y2="561.1" stroke="#000" stroke-width="1"/>
<line x1="123.9" y1="565.6" x2="233.9" y2="565.6" stroke="#000" stroke-width="1"/>
<line x1="121" y1="572.7" x2="237" y2="572.7" stroke="#000" stroke-width="1.8"/>
<line x1="123.9" y1="576.7" x2="233.9" y2="576.7" stroke="#000" stroke-width="1.6"/>
<line x1="123.9" y1="599.5" x2="233.9" y2="599.5" stroke="#000" stroke-width="1"/>
<line x1="123.9" y1="603.3" x2="233.9" y2="603.3" stroke="#000" stroke-width="1"/>
<line x1="123.9" y1="631.2" x2="233.9" y2="631.2" stroke="#000" stroke-width="1"/>
<line x1="123.9" y1="635.2" x2="233.9" y2="635.2" stroke="#000" stroke-width="1"/>
<line x1="121" y1="655.2" x2="237" y2="655.2" stroke="#000" stroke-width="2.4"/>
<rect x="122.3" y="655.4" width="112.1" height="10.4" rx="0" fill="none" stroke="#000" stroke-width="1.5"/>
<line x1="121.5" y1="666" x2="235" y2="666" stroke="#000" stroke-width="2"/>
<circle cx="136.4" cy="660.7" r="1.8" fill="none" stroke="#000" stroke-width="0.8"/>
<circle cx="178.6" cy="660.7" r="1.8" fill="none" stroke="#000" stroke-width="0.8"/>
<circle cx="220.3" cy="660.7" r="1.8" fill="none" stroke="#000" stroke-width="0.8"/>
<rect x="124.3" y="666" width="107.8" height="13.9" rx="0" fill="none" stroke="#000" stroke-width="1"/>
<rect x="195" y="666.5" width="3" height="1.2" rx="0" fill="#000" stroke="none" stroke-width="0"/>
<rect x="215.5" y="667" width="3.5" height="3" rx="0" fill="none" stroke="#000" stroke-width="0.7"/>
<rect x="112.5" y="659" width="2" height="3" rx="0" fill="#000" stroke="none" stroke-width="0"/>
<rect x="242.5" y="659" width="2" height="3" rx="0" fill="#000" stroke="none" stroke-width="0"/>
<rect x="119.3" y="658.5" width="2" height="4" rx="0" fill="#000" stroke="none" stroke-width="0"/>
<rect x="236.5" y="658.5" width="2" height="4" rx="0" fill="#000" stroke="none" stroke-width="0"/>
<rect x="117.5" y="581" width="1.8" height="5" rx="0" fill="#000" stroke="none" stroke-width="0"/>
<rect x="238" y="581" width="1.8" height="5" rx="0" fill="#000" stroke="none" stroke-width="0"/>
<circle cx="132.3" cy="551.5" r="4.3" fill="none" stroke="#000" stroke-width="2.6"/>
<circle cx="224.3" cy="551.5" r="4.3" fill="none" stroke="#000" stroke-width="2.6"/>
<circle cx="132.3" cy="645.3" r="4.3" fill="none" stroke="#000" stroke-width="2.6"/>
<circle cx="224.3" cy="645.3" r="4.3" fill="none" stroke="#000" stroke-width="2.6"/>
<circle cx="224.8" cy="585.7" r="3.9" fill="none" stroke="#000" stroke-width="0.9"/>
<circle cx="223.6" cy="586.8" r="1.4" fill="none" stroke="#000" stroke-width="0.9"/>
<rect x="156" y="543.5" width="1.1" height="1.1" rx="0" fill="#000" stroke="none" stroke-width="0"/>
<rect x="200" y="543.5" width="1.1" height="1.1" rx="0" fill="#000" stroke="none" stroke-width="0"/>
<rect x="207" y="544" width="1.1" height="1.1" rx="0" fill="#000" stroke="none" stroke-width="0"/>
<rect x="212" y="551" width="1.1" height="1.1" rx="0" fill="#000" stroke="none" stroke-width="0"/>
<rect x="184" y="555" width="1.1" height="1.1" rx="0" fill="#000" stroke="none" stroke-width="0"/>
<rect x="188" y="555" width="1.1" height="1.1" rx="0" fill="#000" stroke="none" stroke-width="0"/>
<rect x="192" y="555" width="1.1" height="1.1" rx="0" fill="#000" stroke="none" stroke-width="0"/>
<rect x="186" y="559" width="1.1" height="1.1" rx="0" fill="#000" stroke="none" stroke-width="0"/>
<rect x="190" y="559" width="1.1" height="1.1" rx="0" fill="#000" stroke="none" stroke-width="0"/>
<rect x="129" y="567.5" width="1.1" height="1.1" rx="0" fill="#000" stroke="none" stroke-width="0"/>
<rect x="131" y="567.5" width="1.1" height="1.1" rx="0" fill="#000" stroke="none" stroke-width="0"/>
<rect x="133" y="567.5" width="1.1" height="1.1" rx="0" fill="#000" stroke="none" stroke-width="0"/>
<rect x="143" y="568" width="1.1" height="1.1" rx="0" fill="#000" stroke="none" stroke-width="0"/>
<rect x="147" y="569" width="1.1" height="1.1" rx="0" fill="#000" stroke="none" stroke-width="0"/>
<rect x="186" y="569" width="1.1" height="1.1" rx="0" fill="#000" stroke="none" stroke-width="0"/>
<rect x="127.5" y="611" width="1.1" height="1.1" rx="0" fill="#000" stroke="none" stroke-width="0"/>
<rect x="138.5" y="611" width="1.1" height="1.1" rx="0" fill="#000" stroke="none" stroke-width="0"/>
<rect x="155" y="607" width="1.1" height="1.1" rx="0" fill="#000" stroke="none" stroke-width="0"/>
<rect x="177" y="607" width="1.1" height="1.1" rx="0" fill="#000" stroke="none" stroke-width="0"/>
<rect x="194" y="610" width="1.1" height="1.1" rx="0" fill="#000" stroke="none" stroke-width="0"/>
<rect x="204" y="610" width="1.1" height="1.1" rx="0" fill="#000" stroke="none" stroke-width="0"/>
<rect x="186" y="617" width="1.1" height="1.1" rx="0" fill="#000" stroke="none" stroke-width="0"/>
<rect x="155" y="625" width="1.1" height="1.1" rx="0" fill="#000" stroke="none" stroke-width="0"/>
<rect x="177" y="625" width="1.1" height="1.1" rx="0" fill="#000" stroke="none" stroke-width="0"/>
<rect x="194" y="628" width="1.1" height="1.1" rx="0" fill="#000" stroke="none" stroke-width="0"/>
<rect x="204" y="628" width="1.1" height="1.1" rx="0" fill="#000" stroke="none" stroke-width="0"/>
<rect x="145" y="630" width="1.1" height="1.1" rx="0" fill="#000" stroke="none" stroke-width="0"/>
<rect x="195" y="598.5" width="1.1" height="1.1" rx="0" fill="#000" stroke="none" stroke-width="0"/>
<rect x="209" y="598.5" width="1.1" height="1.1" rx="0" fill="#000" stroke="none" stroke-width="0"/>
<rect x="121.5" y="571" width="1.1" height="1.1" rx="0" fill="#000" stroke="none" stroke-width="0"/>
<rect x="121.5" y="615" width="1.1" height="1.1" rx="0" fill="#000" stroke="none" stroke-width="0"/>
<rect x="127" y="610.5" width="2" height="2" rx="0" fill="#000" stroke="none" stroke-width="0"/>
<rect x="138" y="610.5" width="2" height="2" rx="0" fill="#000" stroke="none" stroke-width="0"/>
<rect x="193.5" y="609.5" width="2" height="2" rx="0" fill="#000" stroke="none" stroke-width="0"/>
<rect x="203.5" y="609.5" width="2" height="2" rx="0" fill="#000" stroke="none" stroke-width="0"/>
<rect x="193.5" y="627.5" width="2" height="2" rx="0" fill="#000" stroke="none" stroke-width="0"/>
<rect x="203.5" y="627.5" width="2" height="2" rx="0" fill="#000" stroke="none" stroke-width="0"/>
<line x1="132.3" y1="501" x2="132.3" y2="551.5" stroke="#000" stroke-width="1"/>
<line x1="224.3" y1="501" x2="224.3" y2="551.5" stroke="#000" stroke-width="1"/>
<line x1="112.3" y1="504.2" x2="244.4" y2="504.2" stroke="#000" stroke-width="1"/>
<polygon points="132.3,504.2 121.3,506 121.3,502.4" fill="#000"/>
<polygon points="224.3,504.2 235.3,502.4 235.3,506" fill="#000"/>
<text x="184.7" y="500.8" font-size="15.2" text-anchor="middle" class="cg" fill="#000" textLength="43.6" lengthAdjust="spacingAndGlyphs">525.00</text>
<line x1="21.2" y1="513.5" x2="152.9" y2="513.5" stroke="#000" stroke-width="1"/>
<line x1="120.5" y1="510" x2="120.5" y2="540" stroke="#000" stroke-width="1"/>
<polygon points="120.5,513.5 109.5,515.3 109.5,511.7" fill="#000"/>
<polygon points="132.3,513.5 143.3,511.7 143.3,515.3" fill="#000"/>
<text x="44" y="510.9" font-size="15.2" text-anchor="middle" class="cg" fill="#000" textLength="35.7" lengthAdjust="spacingAndGlyphs">69.50</text>
<line x1="275.7" y1="482.3" x2="275.7" y2="571.6" stroke="#000" stroke-width="1"/>
<line x1="238.8" y1="538.1" x2="279" y2="538.1" stroke="#000" stroke-width="1"/>
<line x1="224.3" y1="551.5" x2="279" y2="551.5" stroke="#000" stroke-width="1"/>
<polygon points="275.7,538.1 273.9,527.1 277.5,527.1" fill="#000"/>
<polygon points="275.7,551.5 277.5,562.5 273.9,562.5" fill="#000"/>
<text x="271.3" y="503.7" font-size="15.2" text-anchor="middle" class="cg" fill="#000" textLength="35.4" lengthAdjust="spacingAndGlyphs" transform="rotate(-90 271.3 503.7)">77.00</text>
<line x1="78" y1="551.5" x2="132.3" y2="551.5" stroke="#000" stroke-width="1"/>
<line x1="78" y1="645.3" x2="132.3" y2="645.3" stroke="#000" stroke-width="1"/>
<line x1="81.4" y1="551.5" x2="81.4" y2="645.3" stroke="#000" stroke-width="1"/>
<polygon points="81.4,551.5 83.2,562.5 79.6,562.5" fill="#000"/>
<polygon points="81.4,645.3 79.6,634.3 83.2,634.3" fill="#000"/>
<text x="77.5" y="594.5" font-size="15.2" text-anchor="middle" class="cg" fill="#000" textLength="43.5" lengthAdjust="spacingAndGlyphs" transform="rotate(-90 77.5 594.5)">535.00</text>
<line x1="224.3" y1="645.3" x2="279" y2="645.3" stroke="#000" stroke-width="1"/>
<line x1="232" y1="679.9" x2="279" y2="679.9" stroke="#000" stroke-width="1"/>
<line x1="275.7" y1="592.8" x2="275.7" y2="679.9" stroke="#000" stroke-width="1"/>
<polygon points="275.7,645.3 277.5,656.3 273.9,656.3" fill="#000"/>
<polygon points="275.7,679.9 273.9,668.9 277.5,668.9" fill="#000"/>
<text x="271.3" y="619.6" font-size="15.2" text-anchor="middle" class="cg" fill="#000" textLength="44.6" lengthAdjust="spacingAndGlyphs" transform="rotate(-90 271.3 619.6)">203.00</text>
<line x1="132.3" y1="645.3" x2="61.4" y2="716.1" stroke="#000" stroke-width="1"/>
<polygon points="129.2,648.4 123.97,655.9 121.7,653.63" fill="#000"/>
<text x="81.5" y="690.5" font-size="15.2" text-anchor="middle" class="cg" fill="#000" textLength="49" lengthAdjust="spacingAndGlyphs" transform="rotate(-45 81.5 690.5)">Ø58.50</text>
<text x="435.9" y="723.6" font-size="12.6" text-anchor="middle" class="ar" fill="#000" font-weight="bold" textLength="42.4" lengthAdjust="spacingAndGlyphs">INSIDE</text>
<path d="M515 503.6 L372.3 503.6 Q360.3 503.6 360.3 515.6 L360.3 631 Q360.3 643 372.3 643 L515 643 Q526.2 643 526.2 632" fill="none" stroke="#000" stroke-width="1"/>
<path d="M515 503.6 Q526.2 503.6 526.2 514.5" fill="none" stroke="#000" stroke-width="1"/>
<path d="M515 508 L372 508 Q363.6 508 363.6 516.4 L363.6 630 Q363.6 638.4 372 638.4 L515 638.4 Q521.6 638.4 521.6 632" fill="none" stroke="#000" stroke-width="1"/>
<path d="M515 508 Q521.6 508 521.6 514.5" fill="none" stroke="#000" stroke-width="1"/>
<line x1="372.3" y1="503.6" x2="372.3" y2="508" stroke="#000" stroke-width="0.8"/>
<line x1="372.3" y1="638.4" x2="372.3" y2="643" stroke="#000" stroke-width="0.8"/>
<line x1="515" y1="503.6" x2="515" y2="508" stroke="#000" stroke-width="0.8"/>
<line x1="515" y1="638.4" x2="515" y2="643" stroke="#000" stroke-width="0.8"/>
<line x1="375.2" y1="510.3" x2="375.2" y2="635.3" stroke="#000" stroke-width="2.4"/>
<line x1="379.8" y1="512" x2="379.8" y2="634" stroke="#000" stroke-width="1"/>
<line x1="375" y1="510.4" x2="516" y2="510.4" stroke="#000" stroke-width="1.2"/>
<line x1="375" y1="512.6" x2="503" y2="512.6" stroke="#000" stroke-width="1"/>
<line x1="375" y1="635.2" x2="516" y2="635.2" stroke="#000" stroke-width="1.4"/>
<line x1="379" y1="632.6" x2="503" y2="632.6" stroke="#000" stroke-width="1.2"/>
<line x1="502.4" y1="511" x2="502.4" y2="635" stroke="#000" stroke-width="2.2"/>
<line x1="515.6" y1="512" x2="515.6" y2="634" stroke="#000" stroke-width="2"/>
<rect x="516.3" y="514.4" width="14" height="116.8" rx="0" fill="none" stroke="#000" stroke-width="1"/>
<rect x="380.7" y="515.4" width="106.4" height="115.3" rx="3" fill="#000" stroke="none" stroke-width="0"/>
<rect x="384.3" y="561.5" width="86" height="24.8" rx="0" fill="#fff" stroke="none" stroke-width="0"/>
<rect x="472.5" y="561.5" width="11.6" height="24.8" rx="0" fill="#fff" stroke="none" stroke-width="0"/>
<g stroke="#fff" fill="none">
<line x1="384" y1="519.5" x2="485" y2="519.5" stroke-width="0.7" stroke-dasharray="1.6 2.6" stroke-dashoffset="2.5" opacity="0.3"/>
<line x1="384" y1="523.5" x2="485" y2="523.5" stroke-width="0.7" stroke-dasharray="1.6 2.6" stroke-dashoffset="2.5" opacity="0.3"/>
<line x1="384" y1="527.5" x2="485" y2="527.5" stroke-width="0.7" stroke-dasharray="1.6 2.6" stroke-dashoffset="2.5" opacity="0.3"/>
<line x1="384" y1="536" x2="485" y2="536" stroke-width="0.7" stroke-dasharray="1.6 2.6" stroke-dashoffset="0" opacity="0.3"/>
<line x1="384" y1="540" x2="485" y2="540" stroke-width="0.7" stroke-dasharray="1.6 2.6" stroke-dashoffset="0" opacity="0.3"/>
<line x1="384" y1="546" x2="485" y2="546" stroke-width="0.7" stroke-dasharray="1.6 2.6" stroke-dashoffset="2" opacity="0.3"/>
<line x1="384" y1="550" x2="485" y2="550" stroke-width="0.7" stroke-dasharray="1.6 2.6" stroke-dashoffset="2" opacity="0.3"/>
<line x1="384" y1="554" x2="485" y2="554" stroke-width="0.7" stroke-dasharray="1.6 2.6" stroke-dashoffset="2" opacity="0.3"/>
<line x1="384" y1="558" x2="485" y2="558" stroke-width="0.7" stroke-dasharray="1.6 2.6" stroke-dashoffset="2" opacity="0.3"/>
<line x1="384" y1="589.5" x2="485" y2="589.5" stroke-width="0.7" stroke-dasharray="1.6 2.6" stroke-dashoffset="0.5" opacity="0.3"/>
<line x1="384" y1="593.5" x2="485" y2="593.5" stroke-width="0.7" stroke-dasharray="1.6 2.6" stroke-dashoffset="0.5" opacity="0.3"/>
<line x1="384" y1="597.5" x2="485" y2="597.5" stroke-width="0.7" stroke-dasharray="1.6 2.6" stroke-dashoffset="0.5" opacity="0.3"/>
<line x1="384" y1="601.5" x2="485" y2="601.5" stroke-width="0.7" stroke-dasharray="1.6 2.6" stroke-dashoffset="0.5" opacity="0.3"/>
<line x1="384" y1="607" x2="485" y2="607" stroke-width="0.7" stroke-dasharray="1.6 2.6" stroke-dashoffset="1" opacity="0.3"/>
<line x1="384" y1="611" x2="485" y2="611" stroke-width="0.7" stroke-dasharray="1.6 2.6" stroke-dashoffset="1" opacity="0.3"/>
<line x1="384" y1="619" x2="485" y2="619" stroke-width="0.7" stroke-dasharray="1.6 2.6" stroke-dashoffset="1" opacity="0.3"/>
<line x1="384" y1="623" x2="485" y2="623" stroke-width="0.7" stroke-dasharray="1.6 2.6" stroke-dashoffset="1" opacity="0.3"/>
<line x1="384" y1="627" x2="485" y2="627" stroke-width="0.7" stroke-dasharray="1.6 2.6" stroke-dashoffset="1" opacity="0.3"/>
<line x1="388" y1="518" x2="388" y2="560" stroke-width="0.7" stroke-dasharray="1.4 3" stroke-dashoffset="0" opacity="0.2"/>
<line x1="388" y1="588" x2="388" y2="629" stroke-width="0.7" stroke-dasharray="1.4 3" stroke-dashoffset="0" opacity="0.2"/>
<line x1="392" y1="518" x2="392" y2="560" stroke-width="0.7" stroke-dasharray="1.4 3" stroke-dashoffset="0" opacity="0.2"/>
<line x1="392" y1="588" x2="392" y2="629" stroke-width="0.7" stroke-dasharray="1.4 3" stroke-dashoffset="0" opacity="0.2"/>
<line x1="409" y1="518" x2="409" y2="560" stroke-width="0.7" stroke-dasharray="1.4 3" stroke-dashoffset="2" opacity="0.2"/>
<line x1="409" y1="588" x2="409" y2="629" stroke-width="0.7" stroke-dasharray="1.4 3" stroke-dashoffset="2" opacity="0.2"/>
<line x1="414" y1="518" x2="414" y2="560" stroke-width="0.7" stroke-dasharray="1.4 3" stroke-dashoffset="0" opacity="0.2"/>
<line x1="414" y1="588" x2="414" y2="629" stroke-width="0.7" stroke-dasharray="1.4 3" stroke-dashoffset="0" opacity="0.2"/>
<line x1="420" y1="518" x2="420" y2="560" stroke-width="0.7" stroke-dasharray="1.4 3" stroke-dashoffset="0" opacity="0.2"/>
<line x1="420" y1="588" x2="420" y2="629" stroke-width="0.7" stroke-dasharray="1.4 3" stroke-dashoffset="0" opacity="0.2"/>
<line x1="426" y1="518" x2="426" y2="560" stroke-width="0.7" stroke-dasharray="1.4 3" stroke-dashoffset="0" opacity="0.2"/>
<line x1="426" y1="588" x2="426" y2="629" stroke-width="0.7" stroke-dasharray="1.4 3" stroke-dashoffset="0" opacity="0.2"/>
<line x1="432" y1="518" x2="432" y2="560" stroke-width="0.7" stroke-dasharray="1.4 3" stroke-dashoffset="0" opacity="0.2"/>
<line x1="432" y1="588" x2="432" y2="629" stroke-width="0.7" stroke-dasharray="1.4 3" stroke-dashoffset="0" opacity="0.2"/>
<line x1="438" y1="518" x2="438" y2="560" stroke-width="0.7" stroke-dasharray="1.4 3" stroke-dashoffset="0" opacity="0.2"/>
<line x1="438" y1="588" x2="438" y2="629" stroke-width="0.7" stroke-dasharray="1.4 3" stroke-dashoffset="0" opacity="0.2"/>
<line x1="444" y1="518" x2="444" y2="560" stroke-width="0.7" stroke-dasharray="1.4 3" stroke-dashoffset="0" opacity="0.2"/>
<line x1="444" y1="588" x2="444" y2="629" stroke-width="0.7" stroke-dasharray="1.4 3" stroke-dashoffset="0" opacity="0.2"/>
<line x1="450" y1="518" x2="450" y2="560" stroke-width="0.7" stroke-dasharray="1.4 3" stroke-dashoffset="0" opacity="0.2"/>
<line x1="450" y1="588" x2="450" y2="629" stroke-width="0.7" stroke-dasharray="1.4 3" stroke-dashoffset="0" opacity="0.2"/>
<line x1="456" y1="518" x2="456" y2="560" stroke-width="0.7" stroke-dasharray="1.4 3" stroke-dashoffset="0" opacity="0.2"/>
<line x1="456" y1="588" x2="456" y2="629" stroke-width="0.7" stroke-dasharray="1.4 3" stroke-dashoffset="0" opacity="0.2"/>
<line x1="476" y1="518" x2="476" y2="560" stroke-width="0.7" stroke-dasharray="1.4 3" stroke-dashoffset="0" opacity="0.2"/>
<line x1="476" y1="588" x2="476" y2="629" stroke-width="0.7" stroke-dasharray="1.4 3" stroke-dashoffset="0" opacity="0.2"/>
<line x1="481" y1="518" x2="481" y2="560" stroke-width="0.7" stroke-dasharray="1.4 3" stroke-dashoffset="2" opacity="0.2"/>
<line x1="481" y1="588" x2="481" y2="629" stroke-width="0.7" stroke-dasharray="1.4 3" stroke-dashoffset="2" opacity="0.2"/>
<path d="M400 532.2 L468 532.2 L471.2 535.5 L471.2 610.5 L468 613.8 L400 613.8 L396.7 610.5 L396.7 535.5 Z" stroke-width="0.9" opacity="0.45"/>
<path d="M396.7 536 L396.7 610" stroke-width="1.6" opacity="0.85"/>
<path d="M394.9 542 L383.6 542 L383.6 604 L394.9 604 M472.5 542 L486 542 M472.5 604 L486 604" stroke-width="0.9" opacity="0.7"/>
<path d="M402.5 516 L402.5 530.5 M465.8 516 L465.8 530.5 M402.5 615.6 L402.5 630 M465.8 615.6 L465.8 630" stroke-width="1.6" stroke-dasharray="5 1.5"/>
</g>
<line x1="396.7" y1="561.5" x2="396.7" y2="586.3" stroke="#000" stroke-width="0.9"/>
<line x1="470.8" y1="561.5" x2="470.8" y2="586.3" stroke="#000" stroke-width="1.5"/>
<line x1="397.6" y1="550.9" x2="473.8" y2="599.6" stroke="#000" stroke-width="2.6"/>
<line x1="397.6" y1="550.9" x2="473.8" y2="599.6" stroke="#fff" stroke-width="1.1"/>
<line x1="406.4" y1="617.4" x2="463.2" y2="533.1" stroke="#000" stroke-width="5.8"/>
<line x1="406.4" y1="617.4" x2="463.2" y2="533.1" stroke="#fff" stroke-width="4.8"/>
<circle cx="411.51" cy="609.81" r="1.75" fill="#000" stroke="#000" stroke-width="0"/>
<circle cx="416.06" cy="603.07" r="1.75" fill="#000" stroke="#000" stroke-width="0"/>
<circle cx="420.6" cy="596.33" r="1.75" fill="#000" stroke="#000" stroke-width="0"/>
<circle cx="425.14" cy="589.58" r="1.75" fill="#000" stroke="#000" stroke-width="0"/>
<circle cx="429.69" cy="582.84" r="1.75" fill="#000" stroke="#000" stroke-width="0"/>
<circle cx="439.91" cy="567.66" r="1.75" fill="#000" stroke="#000" stroke-width="0"/>
<circle cx="444.46" cy="560.92" r="1.75" fill="#000" stroke="#000" stroke-width="0"/>
<circle cx="449" cy="554.17" r="1.75" fill="#000" stroke="#000" stroke-width="0"/>
<circle cx="453.54" cy="547.43" r="1.75" fill="#000" stroke="#000" stroke-width="0"/>
<circle cx="458.09" cy="540.69" r="1.75" fill="#000" stroke="#000" stroke-width="0"/>
<circle cx="434.3" cy="574.3" r="8.6" fill="#000" stroke="#000" stroke-width="0"/>
<path d="M428.5 568.5 L440 580" fill="none" stroke="#000" stroke-width="5"/>
<path d="M440.5 568 L428.5 580.5" fill="none" stroke="#000" stroke-width="6"/>
<circle cx="434.3" cy="574.3" r="5" fill="none" stroke="#fff" stroke-width="1.3"/>
<rect x="432.6" y="572.8" width="3.4" height="3.2" rx="0" fill="none" stroke="#fff" stroke-width="0.8"/>
<line x1="434.3" y1="571.4" x2="434.3" y2="573" stroke="#fff" stroke-width="0.8"/>
<rect x="405.5" y="537" width="1.8" height="1.8" rx="0" fill="#fff" stroke="none" stroke-width="0"/>
<rect x="405.5" y="607.5" width="1.8" height="1.8" rx="0" fill="#fff" stroke="none" stroke-width="0"/>
<rect x="457.5" y="607.5" width="1.8" height="1.8" rx="0" fill="#fff" stroke="none" stroke-width="0"/>
<circle cx="508.9" cy="520.7" r="3.9" fill="none" stroke="#000" stroke-width="2.2"/>
<circle cx="508.9" cy="520.7" r="1.2" fill="none" stroke="#000" stroke-width="1.2"/>
<circle cx="508.9" cy="625.3" r="3.9" fill="none" stroke="#000" stroke-width="2.2"/>
<circle cx="508.9" cy="618" r="2.6" fill="none" stroke="#000" stroke-width="1.8"/>
<rect x="499.8" y="611" width="2.6" height="10" rx="0" fill="#000" stroke="none" stroke-width="0"/>
<circle cx="505.5" cy="616" r="1.6" fill="#000" stroke="#000" stroke-width="0"/>
<line x1="504.5" y1="514.5" x2="514" y2="514.5" stroke="#000" stroke-width="1.4"/>
<line x1="504.5" y1="631" x2="514" y2="631" stroke="#000" stroke-width="1.4"/>
<path d="M491.5 581 L491.5 576.5 Q491.5 573.5 494.5 573.5 L502 573.5 M494 581.5 L502 581.5 M497.5 574 L497.5 581.5" fill="none" stroke="#000" stroke-width="1"/>
<rect x="482.5" y="572.8" width="4" height="2" rx="0" fill="#000" stroke="none" stroke-width="0"/>
<line x1="492" y1="580" x2="492" y2="584" stroke="#000" stroke-width="1.4"/>
<line x1="495.5" y1="581.5" x2="495.5" y2="584" stroke="#000" stroke-width="1"/>
<path d="M507.5 585.6 q2 0 2 2.5 q0 2.5 -2 2.5 q-2 0 -2 -2.5 q0 -2.5 2 -2.5" fill="none" stroke="#000" stroke-width="0.9"/>
<rect x="500.5" y="525" width="2" height="1.6" rx="0" fill="#000" stroke="none" stroke-width="0"/>
<rect x="500.5" y="553.5" width="2" height="1.6" rx="0" fill="#000" stroke="none" stroke-width="0"/>
<rect x="500.5" y="566" width="2" height="1.6" rx="0" fill="#000" stroke="none" stroke-width="0"/>
<rect x="500.5" y="589.5" width="2" height="1.6" rx="0" fill="#000" stroke="none" stroke-width="0"/>
<rect x="485.5" y="516.5" width="1.6" height="2" rx="0" fill="#000" stroke="none" stroke-width="0"/>
<rect x="407" y="512.2" width="1.4" height="1.6" rx="0" fill="#000" stroke="none" stroke-width="0"/>
<rect x="490" y="512.2" width="1.4" height="1.6" rx="0" fill="#000" stroke="none" stroke-width="0"/>
<rect x="394" y="633" width="1.4" height="1.6" rx="0" fill="#000" stroke="none" stroke-width="0"/>
<rect x="476" y="633" width="1.4" height="1.6" rx="0" fill="#000" stroke="none" stroke-width="0"/>
<line x1="375.4" y1="447" x2="375.4" y2="510" stroke="#000" stroke-width="1"/>
<line x1="530.3" y1="447" x2="530.3" y2="514.4" stroke="#000" stroke-width="1"/>
<line x1="375.4" y1="450.6" x2="530.3" y2="450.6" stroke="#000" stroke-width="1"/>
<polygon points="375.4,450.6 382.9,449.2 382.9,452" fill="#000"/>
<polygon points="530.3,450.6 522.8,452 522.8,449.2" fill="#000"/>
<text x="439.2" y="448.6" font-size="10.6" text-anchor="middle" class="cg" fill="#000" textLength="33" lengthAdjust="spacingAndGlyphs">815.00</text>
<line x1="326" y1="462.5" x2="383.8" y2="462.5" stroke="#000" stroke-width="1"/>
<polygon points="375.4,462.5 367.9,463.9 367.9,461.1" fill="#000"/>
<text x="343.7" y="460.2" font-size="10.6" text-anchor="middle" class="cg" fill="#000" textLength="27.5" lengthAdjust="spacingAndGlyphs">44.00</text>
<line x1="384.2" y1="460.5" x2="384.2" y2="516" stroke="#000" stroke-width="1"/>
<line x1="486.6" y1="460.5" x2="486.6" y2="516" stroke="#000" stroke-width="1"/>
<line x1="384.2" y1="466.1" x2="486.6" y2="466.1" stroke="#000" stroke-width="1"/>
<polygon points="384.2,466.1 391.7,464.7 391.7,467.5" fill="#000"/>
<polygon points="486.6,466.1 479.1,467.5 479.1,464.7" fill="#000"/>
<text x="432.6" y="463.1" font-size="10.6" text-anchor="middle" class="cg" fill="#000" textLength="33" lengthAdjust="spacingAndGlyphs">541.00</text>
<line x1="367.8" y1="489.5" x2="501.4" y2="489.5" stroke="#000" stroke-width="1"/>
<line x1="380.4" y1="487" x2="380.4" y2="516" stroke="#000" stroke-width="1"/>
<line x1="488.3" y1="487" x2="488.3" y2="516" stroke="#000" stroke-width="1"/>
<polygon points="380.4,489.5 372.9,490.9 372.9,488.1" fill="#000"/>
<polygon points="488.3,489.5 495.8,488.1 495.8,490.9" fill="#000"/>
<text x="434.8" y="487.5" font-size="9.7" text-anchor="middle" class="cg" fill="#000" textLength="90.2" lengthAdjust="spacingAndGlyphs">570.00-BASKET BASE</text>
<line x1="327.5" y1="476" x2="327.5" y2="516" stroke="#000" stroke-width="1"/>
<line x1="326" y1="510.4" x2="375" y2="510.4" stroke="#000" stroke-width="1"/>
<line x1="326" y1="515.9" x2="380" y2="515.9" stroke="#000" stroke-width="1"/>
<polygon points="327.5,510.4 326.1,502.9 328.9,502.9" fill="#000"/>
<polygon points="327.5,515.9 328.9,523.4 326.1,523.4" fill="#000"/>
<text x="323.5" y="489" font-size="10.6" text-anchor="middle" class="cg" fill="#000" textLength="27" lengthAdjust="spacingAndGlyphs" transform="rotate(-90 323.5 489)">30.50</text>
<line x1="340.3" y1="515.9" x2="340.3" y2="629.9" stroke="#000" stroke-width="1"/>
<polygon points="340.3,515.9 341.7,523.4 338.9,523.4" fill="#000"/>
<polygon points="340.3,629.9 338.9,622.4 341.7,622.4" fill="#000"/>
<text x="338" y="571.5" font-size="9.7" text-anchor="middle" class="cg" fill="#000" textLength="89" lengthAdjust="spacingAndGlyphs" transform="rotate(-90 338 571.5)">603.00-BASKET BASE</text>
<line x1="326" y1="629.9" x2="380" y2="629.9" stroke="#000" stroke-width="1"/>
<line x1="326" y1="635.5" x2="375" y2="635.5" stroke="#000" stroke-width="1"/>
<line x1="327.5" y1="618" x2="327.5" y2="686.7" stroke="#000" stroke-width="1"/>
<polygon points="327.5,629.9 326.1,622.4 328.9,622.4" fill="#000"/>
<polygon points="327.5,635.5 328.9,643 326.1,643" fill="#000"/>
<text x="324.8" y="669.5" font-size="10.6" text-anchor="middle" class="cg" fill="#000" textLength="26.5" lengthAdjust="spacingAndGlyphs" transform="rotate(-90 324.8 669.5)">30.50</text>
<line x1="375.4" y1="636" x2="375.4" y2="669.8" stroke="#000" stroke-width="1"/>
<line x1="393.3" y1="633" x2="393.3" y2="669.8" stroke="#000" stroke-width="1"/>
<line x1="476.5" y1="633" x2="476.5" y2="669.8" stroke="#000" stroke-width="1"/>
<line x1="343.9" y1="667.8" x2="476.5" y2="667.8" stroke="#000" stroke-width="1"/>
<polygon points="375.4,667.8 382.4,666.4 382.4,669.2" fill="#000"/>
<polygon points="393.3,667.8 386.3,669.2 386.3,666.4" fill="#000"/>
<polygon points="393.3,667.8 400.3,666.4 400.3,669.2" fill="#000"/>
<polygon points="476.5,667.8 469,669.2 469,666.4" fill="#000"/>
<text x="361.2" y="665.8" font-size="10.6" text-anchor="middle" class="cg" fill="#000" textLength="27.3" lengthAdjust="spacingAndGlyphs">96.00</text>
<text x="445.3" y="665.8" font-size="10.6" text-anchor="middle" class="cg" fill="#000" textLength="32.5" lengthAdjust="spacingAndGlyphs">432.00</text>
<circle cx="819.8" cy="533.9" r="14.4" fill="none" stroke="#222" stroke-width="0.9"/>
<text x="819.8" y="539.3" font-size="15" text-anchor="middle" class="ar" fill="#222">2</text>
<circle cx="856.7" cy="538.3" r="14.4" fill="none" stroke="#222" stroke-width="0.9"/>
<text x="856.7" y="543.7" font-size="15" text-anchor="middle" class="ar" fill="#222">3</text>
<circle cx="891.6" cy="541.3" r="14.4" fill="none" stroke="#222" stroke-width="0.9"/>
<text x="891.6" y="546.7" font-size="15" text-anchor="middle" class="ar" fill="#222">5</text>
<circle cx="925.1" cy="543.3" r="14.4" fill="none" stroke="#222" stroke-width="0.9"/>
<text x="925.1" y="548.7" font-size="15" text-anchor="middle" class="ar" fill="#222">4</text>
<circle cx="969.8" cy="545.5" r="14.4" fill="none" stroke="#222" stroke-width="0.9"/>
<text x="969.8" y="550.9" font-size="15" text-anchor="middle" class="ar" fill="#222">1</text>
<line x1="819.8" y1="548.4" x2="825.4" y2="610" stroke="#222" stroke-width="0.8"/>
<line x1="853.3" y1="552.4" x2="845.4" y2="610" stroke="#222" stroke-width="0.8"/>
<line x1="885" y1="554.8" x2="866.1" y2="605.7" stroke="#222" stroke-width="0.8"/>
<line x1="914.5" y1="554.8" x2="866.6" y2="613.6" stroke="#222" stroke-width="0.8"/>
<line x1="965.4" y1="559.8" x2="953.4" y2="610" stroke="#222" stroke-width="0.8"/>
<line x1="790.6" y1="578.3" x2="790.6" y2="697.3" stroke="#000" stroke-width="1.1"/>
<line x1="794" y1="578.3" x2="794" y2="697.3" stroke="#000" stroke-width="1"/>
<line x1="998.6" y1="578.3" x2="998.6" y2="697.3" stroke="#000" stroke-width="1.1"/>
<line x1="995.3" y1="578.3" x2="995.3" y2="697.3" stroke="#000" stroke-width="1"/>
<line x1="790.6" y1="578.4" x2="998.6" y2="578.4" stroke="#000" stroke-width="1.1"/>
<line x1="798.9" y1="578.4" x2="798.9" y2="592" stroke="#000" stroke-width="1"/>
<line x1="992.3" y1="578.4" x2="992.3" y2="592" stroke="#000" stroke-width="1"/>
<line x1="797.5" y1="592.1" x2="993.8" y2="592.1" stroke="#000" stroke-width="1.6"/>
<rect x="794.6" y="583.5" width="1.8" height="5" rx="0" fill="#000" stroke="none" stroke-width="0"/>
<rect x="992.8" y="583.5" width="1.8" height="5" rx="0" fill="#000" stroke="none" stroke-width="0"/>
<line x1="796.5" y1="580" x2="796.5" y2="592" stroke="#000" stroke-width="0.8"/>
<line x1="994" y1="580" x2="994" y2="592" stroke="#000" stroke-width="0.8"/>
<line x1="792" y1="606" x2="793.6" y2="606" stroke="#000" stroke-width="1.5"/>
<line x1="800.4" y1="592.1" x2="800.4" y2="623.2" stroke="#000" stroke-width="1"/>
<line x1="988.9" y1="592.1" x2="988.9" y2="623.2" stroke="#000" stroke-width="1"/>
<line x1="800.4" y1="623.4" x2="988.9" y2="623.4" stroke="#000" stroke-width="2.3"/>
<circle cx="825.4" cy="610" r="7.8" fill="none" stroke="#000" stroke-width="0.9"/>
<circle cx="845.4" cy="610.4" r="5.6" fill="none" stroke="#000" stroke-width="0.9"/>
<circle cx="866.1" cy="605.7" r="1.9" fill="none" stroke="#000" stroke-width="0.9"/>
<circle cx="866.1" cy="614.3" r="2.2" fill="none" stroke="#000" stroke-width="0.9"/>
<circle cx="953.4" cy="610.2" r="3.5" fill="none" stroke="#000" stroke-width="0.9"/>
<circle cx="965.8" cy="610.2" r="4.6" fill="none" stroke="#000" stroke-width="0.9"/>
<line x1="803.8" y1="623.4" x2="803.8" y2="695.3" stroke="#000" stroke-width="2.6"/>
<line x1="985.4" y1="623.4" x2="985.4" y2="695.3" stroke="#000" stroke-width="2"/>
<line x1="802.6" y1="695.4" x2="986.4" y2="695.4" stroke="#000" stroke-width="2.8"/>
<line x1="790" y1="697.4" x2="803" y2="697.4" stroke="#000" stroke-width="1.4"/>
<line x1="986" y1="697.4" x2="999" y2="697.4" stroke="#000" stroke-width="1.4"/>
<rect x="819.4" y="655.2" width="5.4" height="6.6" rx="0" fill="#000" stroke="none" stroke-width="0"/>
<rect x="860.3" y="655.2" width="4.4" height="6.6" rx="0" fill="#000" stroke="none" stroke-width="0"/>
<rect x="924.5" y="655.2" width="4.4" height="6.6" rx="0" fill="#000" stroke="none" stroke-width="0"/>
<rect x="965.4" y="655.2" width="4.6" height="6.6" rx="0" fill="#000" stroke="none" stroke-width="0"/>
<circle cx="820.8" cy="625.9" r="1.7" fill="#000" stroke="#000" stroke-width="0"/>
<circle cx="820.8" cy="689.7" r="1.7" fill="#000" stroke="#000" stroke-width="0"/>
<circle cx="968" cy="625.9" r="1.7" fill="#000" stroke="#000" stroke-width="0"/>
<circle cx="968" cy="689.7" r="1.7" fill="#000" stroke="#000" stroke-width="0"/>
<rect x="853" y="697" width="4" height="1.4" rx="0" fill="#000" stroke="none" stroke-width="0"/>
<rect x="932" y="697" width="4" height="1.4" rx="0" fill="#000" stroke="none" stroke-width="0"/>
<rect x="791" y="697.5" width="3" height="1.5" rx="0" fill="#000" stroke="none" stroke-width="0"/>
<rect x="995" y="697.5" width="3" height="1.5" rx="0" fill="#000" stroke="none" stroke-width="0"/>
<line x1="802.5" y1="686" x2="805.5" y2="686" stroke="#000" stroke-width="1.4"/>
<line x1="984" y1="686" x2="987.5" y2="686" stroke="#000" stroke-width="1.4"/>
<rect x="803.3" y="697.4" width="18.5" height="13.8" rx="0" fill="none" stroke="#000" stroke-width="1"/>
<rect x="968.4" y="697.4" width="18.3" height="13.8" rx="0" fill="none" stroke="#000" stroke-width="1"/>
<rect x="998.8" y="597.5" width="1" height="2" rx="0" fill="#000" stroke="none" stroke-width="0"/>
<rect x="998.8" y="628" width="1" height="2.5" rx="0" fill="#000" stroke="none" stroke-width="0"/>
<text x="900.6" y="719.6" font-size="12.5" text-anchor="middle" class="cg" fill="#000" textLength="53.8" lengthAdjust="spacingAndGlyphs">DETAIL A</text>
<path d="M1118 354.6 L1234.7 386.3 L1165.6 454.8 L1047.5 423.3 Z" fill="none" stroke="#000" stroke-width="1.1"/>
<path d="M1047.5 425.4 L1165.6 456.9" fill="none" stroke="#000" stroke-width="1"/>
<path d="M1165.6 456.9 L1229 394" fill="none" stroke="#000" stroke-width="1.3"/>
<line x1="1047.8" y1="423.3" x2="1047.8" y2="522.5" stroke="#000" stroke-width="1.8"/>
<line x1="1165.6" y1="454.8" x2="1165.6" y2="548" stroke="#000" stroke-width="1"/>
<line x1="1229" y1="393" x2="1229" y2="496" stroke="#000" stroke-width="1.8"/>
<line x1="1234.9" y1="386.3" x2="1234.9" y2="392" stroke="#000" stroke-width="1"/>
<path d="M1234.7 388 L1240.3 389.6 L1240.3 400" fill="none" stroke="#000" stroke-width="1"/>
<line x1="1235.8" y1="392" x2="1235.8" y2="614.3" stroke="#000" stroke-width="1"/>
<line x1="1239.8" y1="400" x2="1239.8" y2="547" stroke="#000" stroke-width="1"/>
<line x1="1237.2" y1="392" x2="1237.2" y2="402" stroke="#000" stroke-width="0.8"/>
<path d="M1235.8 614.3 L1240 610 L1240 548" fill="none" stroke="#000" stroke-width="0.9"/>
<rect x="1238.6" y="539" width="1.6" height="6" rx="0" fill="#000" stroke="none" stroke-width="0"/>
<path d="M1243.5 415 L1168.3 547.4 L1164.6 545.6 L1237.5 414 Z" fill="#fff" stroke="none" stroke-width="0"/>
<path d="M1243.5 415 L1168.3 547.4" fill="none" stroke="#000" stroke-width="1"/>
<path d="M1237.5 414 L1164.6 545.6" fill="none" stroke="#000" stroke-width="1"/>
<path d="M1243.5 415 Q1246 407 1241.5 401.8 Q1239.5 400.2 1236.7 400.3" fill="none" stroke="#000" stroke-width="1"/>
<path d="M1237.5 414 Q1240.8 409.5 1236.5 405.5" fill="none" stroke="#000" stroke-width="1"/>
<circle cx="1233.3" cy="416.8" r="1.7" fill="#000" stroke="#000" stroke-width="0"/>
<rect x="1240" y="417.2" width="2" height="2.6" rx="0" fill="none" stroke="#000" stroke-width="0.6"/>
<path d="M1042.4 522.2 L1150.6 551.7" fill="none" stroke="#000" stroke-width="1"/>
<path d="M1040.5 526.3 L1150.6 556.2" fill="none" stroke="#000" stroke-width="1"/>
<path d="M1150.6 551.7 Q1160.5 554 1164.6 545.6" fill="none" stroke="#000" stroke-width="1"/>
<path d="M1150.6 556.2 Q1164.5 559.5 1168.3 547.4" fill="none" stroke="#000" stroke-width="1"/>
<line x1="1150.6" y1="551.7" x2="1150.6" y2="556.2" stroke="#000" stroke-width="0.7"/>
<line x1="1164.6" y1="545.6" x2="1168.3" y2="547.4" stroke="#000" stroke-width="0.7"/>
<path d="M1047.1 489.6 L1034.5 512 Q1031.5 520.5 1040.5 526.3" fill="none" stroke="#000" stroke-width="1"/>
<path d="M1047.1 499.9 L1039 515.5 Q1037.5 520 1042.4 522.2" fill="none" stroke="#000" stroke-width="1"/>
<line x1="1042.4" y1="522.2" x2="1040.5" y2="526.3" stroke="#000" stroke-width="0.7"/>
<path d="M1191 492 L1191.6 518 M1192.8 492 L1194.2 518" fill="none" stroke="#000" stroke-width="0.9"/>
<circle cx="1192.8" cy="521.5" r="2.2" fill="none" stroke="#000" stroke-width="1.2"/>
<circle cx="1191.2" cy="493.6" r="1.4" fill="#000" stroke="#000" stroke-width="0"/>
<path d="M1242 494 Q1246.5 494.5 1246.5 500 L1246.5 508 Q1244.5 510 1242 508 L1242 500" fill="none" stroke="#000" stroke-width="1"/>
<line x1="1242" y1="502.5" x2="1246.5" y2="502.5" stroke="#000" stroke-width="0.8"/>
<line x1="1045.8" y1="527" x2="1045.8" y2="649.3" stroke="#000" stroke-width="1.4"/>
<line x1="1165.8" y1="552" x2="1165.8" y2="681" stroke="#000" stroke-width="2"/>
<line x1="1229.9" y1="496" x2="1229.9" y2="619.2" stroke="#000" stroke-width="1.8"/>
<path d="M1165.8 554.9 L1229.9 495.6" fill="none" stroke="#000" stroke-width="1.2"/>
<path d="M1046 582.1 L1165.6 614.2" fill="none" stroke="#000" stroke-width="1.4"/>
<path d="M1046 596.7 L1165.6 628.8" fill="none" stroke="#000" stroke-width="1.4"/>
<path d="M1047.2 583 L1046.4 596" fill="none" stroke="#000" stroke-width="0.7"/>
<path d="M1165.8 614.2 L1229.9 553" fill="none" stroke="#000" stroke-width="1.3"/>
<path d="M1045.6 649.3 L1165.6 681 L1230.8 619.2" fill="none" stroke="#000" stroke-width="1.5"/>
<circle cx="1047.3" cy="616.5" r="1.6" fill="#000" stroke="#000" stroke-width="0"/>
<circle cx="1164.4" cy="648" r="1.6" fill="#000" stroke="#000" stroke-width="0"/>
<g transform="translate(1087.8,600.6) rotate(15)">
<circle cx="0.8" cy="0" r="1.1" fill="#000" stroke="#000" stroke-width="0"/>
<circle cx="3.6" cy="0" r="1.1" fill="#000" stroke="#000" stroke-width="0"/>
<circle cx="6.4" cy="0" r="1.1" fill="#000" stroke="#000" stroke-width="0"/>
<rect x="10.5" y="-1.7" width="4.4" height="3.4" rx="0" fill="none" stroke="#000" stroke-width="0.8"/>
<circle cx="18.8" cy="0" r="0.7" fill="#000" stroke="#000" stroke-width="0"/>
<rect x="22.5" y="-1.7" width="4.4" height="3.4" rx="0" fill="none" stroke="#000" stroke-width="0.8"/>
<circle cx="30.5" cy="0" r="1.1" fill="#000" stroke="#000" stroke-width="0"/>
<circle cx="33.4" cy="0" r="1.1" fill="#000" stroke="#000" stroke-width="0"/>
<circle cx="36.8" cy="0" r="1.1" fill="#000" stroke="#000" stroke-width="0"/>
</g>
<line x1="1059.6" y1="653" x2="1059.6" y2="675.5" stroke="#000" stroke-width="1"/>
<line x1="1071.3" y1="656.2" x2="1071.3" y2="675.5" stroke="#000" stroke-width="1"/>
<path d="M1059.6 666 Q1065.4499999999998 669.5 1071.3 666" fill="none" stroke="#000" stroke-width="1.6"/>
<path d="M1059.6 668 Q1065.4499999999998 671.5 1071.3 668" fill="none" stroke="#000" stroke-width="0.8"/>
<path d="M1059.6 675.5 Q1065.4499999999998 680.0 1071.3 675.5" fill="none" stroke="#000" stroke-width="1.1"/>
<line x1="1154.4" y1="678" x2="1154.4" y2="701.4" stroke="#000" stroke-width="1"/>
<line x1="1167.2" y1="679.5" x2="1167.2" y2="701.4" stroke="#000" stroke-width="1"/>
<path d="M1154.4 691.5 Q1160.8000000000002 695.0 1167.2 691.5" fill="none" stroke="#000" stroke-width="1.6"/>
<path d="M1154.4 693.5 Q1160.8000000000002 697.0 1167.2 693.5" fill="none" stroke="#000" stroke-width="0.8"/>
<path d="M1154.4 701.4 Q1160.8000000000002 705.9 1167.2 701.4" fill="none" stroke="#000" stroke-width="1.1"/>
<line x1="1206.9" y1="642" x2="1206.9" y2="651.2" stroke="#000" stroke-width="1"/>
<line x1="1218.6" y1="631" x2="1218.6" y2="651.2" stroke="#000" stroke-width="1"/>
<path d="M1206.9 644.5 Q1212.75 648.0 1218.6 644.5" fill="none" stroke="#000" stroke-width="1.6"/>
<path d="M1206.9 646.5 Q1212.75 650.0 1218.6 646.5" fill="none" stroke="#000" stroke-width="0.8"/>
<path d="M1206.9 651.2 Q1212.75 655.7 1218.6 651.2" fill="none" stroke="#000" stroke-width="1.1"/>
<line x1="0" y1="728.4" x2="1249.6" y2="728.4" stroke="#000" stroke-width="1.3"/>
<line x1="0" y1="752.7" x2="1000.5" y2="752.7" stroke="#000" stroke-width="1.3"/>
<line x1="0" y1="777.5" x2="1000.5" y2="777.5" stroke="#000" stroke-width="1.3"/>
<line x1="0" y1="801.6" x2="279.4" y2="801.6" stroke="#000" stroke-width="1.3"/>
<line x1="376.4" y1="801.6" x2="1000.5" y2="801.6" stroke="#000" stroke-width="1.3"/>
<line x1="376.4" y1="824.4" x2="1000.5" y2="824.4" stroke="#000" stroke-width="1.3"/>
<line x1="0" y1="850.5" x2="1000.5" y2="850.5" stroke="#000" stroke-width="1.3"/>
<line x1="376.4" y1="728.4" x2="376.4" y2="874" stroke="#000" stroke-width="1.3"/>
<line x1="400.4" y1="752.7" x2="400.4" y2="874" stroke="#000" stroke-width="1.3"/>
<line x1="1000.5" y1="728.4" x2="1000.5" y2="874" stroke="#000" stroke-width="1.3"/>
<line x1="1000.5" y1="773.2" x2="1249.6" y2="773.2" stroke="#000" stroke-width="1.3"/>
<line x1="141.5" y1="752.7" x2="141.5" y2="850.5" stroke="#000" stroke-width="1.3"/>
<line x1="279.4" y1="752.7" x2="279.4" y2="850.5" stroke="#000" stroke-width="1.3"/>
<line x1="69.5" y1="777.5" x2="69.5" y2="850.5" stroke="#000" stroke-width="1.3"/>
<line x1="212.3" y1="777.5" x2="212.3" y2="850.5" stroke="#000" stroke-width="1.3"/>
<line x1="191.4" y1="850.5" x2="191.4" y2="874" stroke="#000" stroke-width="1.3"/>
<text x="180.5" y="745.6" font-size="12.4" text-anchor="middle" class="cg" fill="#000" font-weight="bold" textLength="137" lengthAdjust="spacingAndGlyphs">MACHINE PROPERTIES</text>
<text x="70.7" y="770.7" font-size="13" text-anchor="middle" class="cg" fill="#000" font-weight="bold" textLength="89" lengthAdjust="spacingAndGlyphs">CAPACITY (Lt)</text>
<text x="214" y="770.7" font-size="13" text-anchor="middle" class="cg" fill="#000" font-weight="bold" textLength="79" lengthAdjust="spacingAndGlyphs">WEIGHT (Kg)</text>
<text x="329.2" y="770.7" font-size="13" text-anchor="middle" class="cg" fill="#000" font-weight="bold" textLength="82.3" lengthAdjust="spacingAndGlyphs">VOLTAGE (V)</text>
<text x="34.9" y="795.7" font-size="10.3" text-anchor="middle" class="cg" fill="#000" font-weight="bold" textLength="28.6" lengthAdjust="spacingAndGlyphs">Boiler</text>
<text x="106.2" y="795.7" font-size="10.3" text-anchor="middle" class="cg" fill="#000" font-weight="bold" textLength="24.4" lengthAdjust="spacingAndGlyphs">Tank</text>
<text x="178.2" y="795.7" font-size="10.3" text-anchor="middle" class="cg" fill="#000" font-weight="bold" textLength="17.6" lengthAdjust="spacingAndGlyphs">Net</text>
<text x="247.9" y="795.7" font-size="10.3" text-anchor="middle" class="cg" fill="#000" font-weight="bold" textLength="28.6" lengthAdjust="spacingAndGlyphs">Gross</text>
<text x="39.7" y="829.9" font-size="16.3" text-anchor="middle" class="ar" fill="#222">7.4</text>
<text x="103.8" y="829.9" font-size="16.3" text-anchor="middle" class="ar" fill="#222">58</text>
<text x="179.2" y="829.9" font-size="16.3" text-anchor="middle" class="ar" fill="#222">111</text>
<text x="246.4" y="828.9" font-size="16.3" text-anchor="middle" class="ar" fill="#222">129</text>
<text x="331.1" y="814.1" font-size="10.9" text-anchor="middle" class="ar" fill="#333">400 V</text>
<text x="331.2" y="826.6" font-size="10.3" text-anchor="middle" class="ar" fill="#333" textLength="66" lengthAdjust="spacingAndGlyphs">- 3N-50/60Hz</text>
<text x="69" y="866.8" font-size="10.7" text-anchor="middle" class="cg" fill="#000" font-weight="bold" textLength="98.7" lengthAdjust="spacingAndGlyphs">Max.Amp./Phase :</text>
<text x="148.4" y="866.8" font-size="9.4" text-anchor="middle" class="ar" fill="#333">12.6</text>
<text x="265.2" y="866.8" font-size="10.7" text-anchor="middle" class="cg" fill="#000" font-weight="bold" textLength="103.8" lengthAdjust="spacingAndGlyphs">Max.Loading (KW) :</text>
<text x="336.2" y="866.8" font-size="9.4" text-anchor="middle" class="ar" fill="#333">8.6</text>
<text x="667" y="746.3" font-size="12.4" text-anchor="middle" class="cg" fill="#000" font-weight="bold" textLength="155.4" lengthAdjust="spacingAndGlyphs">BALLOON INFORMATION</text>
<text x="389.2" y="769" font-size="10.3" text-anchor="middle" class="cg" fill="#000" font-weight="bold">1.</text>
<text x="389.2" y="795.7" font-size="10.3" text-anchor="middle" class="cg" fill="#000" font-weight="bold">2.</text>
<text x="389.2" y="817.5" font-size="10.3" text-anchor="middle" class="cg" fill="#000" font-weight="bold">3.</text>
<text x="389.2" y="842.9" font-size="10.3" text-anchor="middle" class="cg" fill="#000" font-weight="bold">4.</text>
<text x="389.2" y="866.8" font-size="10.3" text-anchor="middle" class="cg" fill="#000" font-weight="bold">5.</text>
<text x="403.4" y="769" font-size="8.8" text-anchor="start" class="cg" fill="#444" textLength="264.8" lengthAdjust="spacingAndGlyphs" xml:space="preserve">Electrical Supply 1,75 m Connection  (H05 VV-F  5x2,5mm)</text>
<text x="402.8" y="795.2" font-size="8.8" text-anchor="start" class="cg" fill="#444" textLength="250.7" lengthAdjust="spacingAndGlyphs">Draining pipe (1,95m) OD45-ID31,5 (no draining pump)</text>
<text x="403.4" y="817.5" font-size="8.8" text-anchor="start" class="cg" fill="#444" textLength="342" lengthAdjust="spacingAndGlyphs">Inlet Male Nozzle Threaded End G3/4&quot; for Water Supply(Pipe length : 1.5m)</text>
<text x="403.4" y="842.9" font-size="8.8" text-anchor="start" class="cg" fill="#444" textLength="313.3" lengthAdjust="spacingAndGlyphs" xml:space="preserve">Rinse Aid Flexible Pipe Pos.(Blue)  (Outer Diameter 6mm - L:1400mm)</text>
<text x="403" y="867.3" font-size="8.8" text-anchor="start" class="cg" fill="#444" textLength="323" lengthAdjust="spacingAndGlyphs">Detergent Flexible Pipe Pos. (Clear) (Outer Diameter 6mm - L:1400mm)</text>
<text x="1127.6" y="817" font-size="15.6" text-anchor="middle" class="cg" fill="#111" textLength="183.3" lengthAdjust="spacingAndGlyphs">INSTALLATION DRAWING</text>
</svg>
</body></html>
